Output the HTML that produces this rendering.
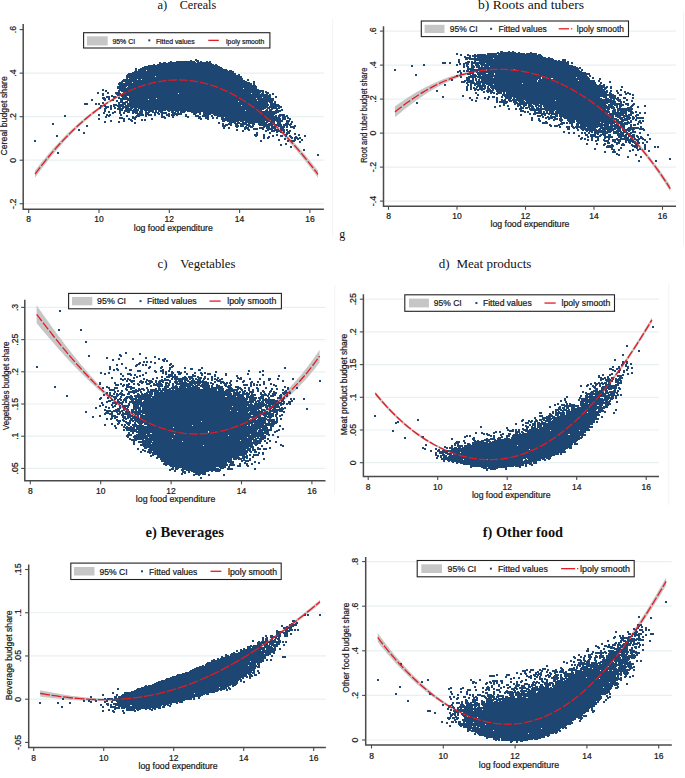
<!DOCTYPE html><html><head><meta charset="utf-8"><style>html,body{margin:0;padding:0;background:#fff;overflow:hidden}svg{display:block}text[font-family*=Sans]{stroke:#161616;stroke-width:.22px;paint-order:stroke}</style></head><body>
<svg width="685" height="778" viewBox="0 0 685 778">
<rect width="685" height="778" fill="#fff"/>
<path d="M24.2 203.73H323.9" stroke="#e8f0f1" stroke-width="1.2"/>
<path d="M24.2 160.2H323.9" stroke="#e8f0f1" stroke-width="1.2"/>
<path d="M24.2 116.67H323.9" stroke="#e8f0f1" stroke-width="1.2"/>
<path d="M24.2 73.13H323.9" stroke="#e8f0f1" stroke-width="1.2"/>
<path d="M35 170.72L37.38 167.62L39.76 164.58L42.13 161.6L44.51 158.68L46.89 155.82L49.27 153.02L51.65 150.28L54.03 147.59L56.4 144.97L58.78 142.4L61.16 139.88L63.54 137.43L65.92 135.02L68.29 132.68L70.67 130.38L73.05 128.14L75.43 125.96L77.81 123.83L80.18 121.75L82.56 119.72L84.94 117.74L87.32 115.82L89.7 113.94L92.08 112.12L94.45 110.35L96.83 108.63L99.21 106.96L101.59 105.34L103.97 103.76L106.34 102.24L108.72 100.76L111.1 99.3L113.48 97.88L115.86 96.52L118.24 95.21L120.61 93.95L122.99 92.74L125.37 91.58L127.75 90.47L130.13 89.41L132.5 88.4L134.88 87.45L137.26 86.54L139.64 85.68L142.02 84.88L144.39 84.13L146.77 83.42L149.15 82.77L151.53 82.17L153.91 81.62L156.29 81.12L158.66 80.67L161.04 80.27L163.42 79.93L165.8 79.64L168.18 79.4L170.55 79.21L172.93 79.07L175.31 78.98L177.69 78.95L180.07 78.97L182.45 79.04L184.82 79.17L187.2 79.35L189.58 79.58L191.96 79.86L194.34 80.2L196.71 80.59L199.09 81.04L201.47 81.54L203.85 82.09L206.23 82.69L208.61 83.36L210.98 84.07L213.36 84.84L215.74 85.66L218.12 86.54L220.5 87.48L222.87 88.46L225.25 89.51L227.63 90.6L230.01 91.76L232.39 92.97L234.76 94.23L237.14 95.55L239.52 96.92L241.9 98.35L244.28 99.84L246.66 101.35L249.03 102.9L251.41 104.51L253.79 106.17L256.17 107.89L258.55 109.65L260.92 111.47L263.3 113.35L265.68 115.28L268.06 117.26L270.44 119.29L272.82 121.38L275.19 123.52L277.57 125.72L279.95 127.97L282.33 130.26L284.71 132.62L287.08 135.02L289.46 137.48L291.84 139.98L294.22 142.54L296.6 145.15L298.97 147.81L301.35 150.52L303.73 153.27L306.11 156.08L308.49 158.94L310.87 161.84L313.24 164.79L315.62 167.79L318 170.84L318 177.84L315.62 174.61L313.24 171.43L310.87 168.3L308.49 165.22L306.11 162.19L303.73 159.21L301.35 156.28L298.97 153.4L296.6 150.58L294.22 147.8L291.84 145.08L289.46 142.41L287.08 139.8L284.71 137.23L282.33 134.73L279.95 132.27L277.57 129.88L275.19 127.53L272.82 125.24L270.44 123.01L268.06 120.84L265.68 118.72L263.3 116.65L260.92 114.65L258.55 112.7L256.17 110.8L253.79 108.97L251.41 107.19L249.03 105.47L246.66 103.81L244.28 102.21L241.9 100.7L239.52 99.25L237.14 97.85L234.76 96.51L232.39 95.22L230.01 93.99L227.63 92.82L225.25 91.7L222.87 90.64L220.5 89.64L218.12 88.68L215.74 87.79L213.36 86.95L210.98 86.17L208.61 85.44L206.23 84.77L203.85 84.15L201.47 83.58L199.09 83.08L196.71 82.62L194.34 82.22L191.96 81.88L189.58 81.59L187.2 81.35L184.82 81.17L182.45 81.05L180.07 80.97L177.69 80.95L175.31 80.98L172.93 81.07L170.55 81.21L168.18 81.4L165.8 81.65L163.42 81.95L161.04 82.3L158.66 82.7L156.29 83.16L153.91 83.67L151.53 84.23L149.15 84.84L146.77 85.5L144.39 86.22L142.02 86.99L139.64 87.8L137.26 88.68L134.88 89.6L132.5 90.57L130.13 91.6L127.75 92.67L125.37 93.8L122.99 94.98L120.61 96.21L118.24 97.49L115.86 98.82L113.48 100.2L111.1 101.64L108.72 103.13L106.34 104.7L103.97 106.33L101.59 108.02L99.21 109.75L96.83 111.55L94.45 113.39L92.08 115.29L89.7 117.25L87.32 119.26L84.94 121.32L82.56 123.44L80.18 125.61L77.81 127.83L75.43 130.12L73.05 132.45L70.67 134.85L68.29 137.29L65.92 139.8L63.54 142.36L61.16 144.98L58.78 147.66L56.4 150.39L54.03 153.19L51.65 156.04L49.27 158.95L46.89 161.93L44.51 164.96L42.13 168.06L39.76 171.22L37.38 174.44L35 177.72Z" fill="#c6c6c6"/>
<path d="M384.5 201.1H676" stroke="#e8f0f1" stroke-width="1.2"/>
<path d="M384.5 167.1H676" stroke="#e8f0f1" stroke-width="1.2"/>
<path d="M384.5 133.1H676" stroke="#e8f0f1" stroke-width="1.2"/>
<path d="M384.5 99.1H676" stroke="#e8f0f1" stroke-width="1.2"/>
<path d="M384.5 65.1H676" stroke="#e8f0f1" stroke-width="1.2"/>
<path d="M384.5 31.1H676" stroke="#e8f0f1" stroke-width="1.2"/>
<path d="M395 106.37L397.31 104.7L399.63 103.06L401.94 101.46L404.25 99.89L406.57 98.36L408.88 96.87L411.19 95.41L413.51 93.99L415.82 92.61L418.13 91.27L420.45 89.96L422.76 88.7L425.07 87.47L427.39 86.28L429.7 85.13L432.02 84.02L434.33 82.95L436.64 81.92L438.96 80.93L441.27 79.98L443.58 79.07L445.9 78.2L448.21 77.36L450.52 76.57L452.84 75.82L455.15 75.1L457.46 74.43L459.78 73.79L462.09 73.19L464.4 72.63L466.72 72.11L469.03 71.63L471.34 71.18L473.66 70.76L475.97 70.38L478.28 69.99L480.6 69.63L482.91 69.32L485.22 69.04L487.54 68.81L489.85 68.62L492.16 68.48L494.48 68.37L496.79 68.3L499.11 68.28L501.42 68.3L503.73 68.36L506.05 68.46L508.36 68.6L510.67 68.78L512.99 69L515.3 69.26L517.61 69.56L519.93 69.91L522.24 70.29L524.55 70.72L526.87 71.18L529.18 71.69L531.49 72.23L533.81 72.82L536.12 73.45L538.43 74.11L540.75 74.82L543.06 75.57L545.37 76.35L547.69 77.18L550 78.05L552.31 78.96L554.63 79.9L556.94 80.89L559.25 81.92L561.57 82.99L563.88 84.1L566.19 85.26L568.51 86.45L570.82 87.68L573.14 88.96L575.45 90.28L577.76 91.64L580.08 93.04L582.39 94.49L584.7 95.98L587.02 97.51L589.33 99.09L591.64 100.7L593.96 102.37L596.27 104.08L598.58 105.83L600.9 107.63L603.21 109.48L605.52 111.38L607.84 113.31L610.15 115.27L612.46 117.27L614.78 119.32L617.09 121.42L619.4 123.57L621.72 125.78L624.03 128.03L626.34 130.34L628.66 132.7L630.97 135.11L633.28 137.58L635.6 140.11L637.91 142.69L640.23 145.33L642.54 148.04L644.85 150.8L647.17 153.63L649.48 156.52L651.79 159.47L654.11 162.5L656.42 165.58L658.73 168.74L661.05 171.97L663.36 175.27L665.67 178.65L667.99 182.1L670.3 185.62L670.3 191.62L667.99 187.95L665.67 184.36L663.36 180.84L661.05 177.4L658.73 174.03L656.42 170.73L654.11 167.51L651.79 164.35L649.48 161.26L647.17 158.24L644.85 155.28L642.54 152.39L640.23 149.55L637.91 146.79L635.6 144.08L633.28 141.43L630.97 138.84L628.66 136.3L626.34 133.83L624.03 131.4L621.72 129.04L619.4 126.73L617.09 124.47L614.78 122.26L612.46 120.11L610.15 118L607.84 115.95L605.52 113.98L603.21 112.06L600.9 110.19L598.58 108.36L596.27 106.58L593.96 104.85L591.64 103.16L589.33 101.52L587.02 99.92L584.7 98.37L582.39 96.86L580.08 95.4L577.76 93.97L575.45 92.59L573.14 91.26L570.82 89.96L568.51 88.71L566.19 87.5L563.88 86.33L561.57 85.21L559.25 84.12L556.94 83.08L554.63 82.07L552.31 81.11L550 80.19L547.69 79.31L545.37 78.47L543.06 77.67L540.75 76.92L538.43 76.2L536.12 75.52L533.81 74.89L531.49 74.29L529.18 73.74L526.87 73.23L524.55 72.75L522.24 72.32L519.93 71.93L517.61 71.58L515.3 71.28L512.99 71.01L510.67 70.78L508.36 70.6L506.05 70.46L503.73 70.36L501.42 70.3L499.11 70.28L496.79 70.3L494.48 70.37L492.16 70.48L489.85 70.63L487.54 70.82L485.22 71.06L482.91 71.33L480.6 71.65L478.28 72.02L475.97 72.43L473.66 72.93L471.34 73.49L469.03 74.1L466.72 74.76L464.4 75.46L462.09 76.22L459.78 77.02L457.46 77.86L455.15 78.76L452.84 79.7L450.52 80.68L448.21 81.71L445.9 82.79L443.58 83.91L441.27 85.07L438.96 86.28L436.64 87.54L434.33 88.84L432.02 90.18L429.7 91.56L427.39 92.99L425.07 94.47L422.76 95.98L420.45 97.54L418.13 99.14L415.82 100.78L413.51 102.46L411.19 104.19L408.88 105.95L406.57 107.76L404.25 109.6L401.94 111.49L399.63 113.41L397.31 115.37L395 117.37Z" fill="#c6c6c6"/>
<path d="M25.8 468.4H325.5" stroke="#e8f0f1" stroke-width="1.2"/>
<path d="M25.8 436.2H325.5" stroke="#e8f0f1" stroke-width="1.2"/>
<path d="M25.8 404H325.5" stroke="#e8f0f1" stroke-width="1.2"/>
<path d="M25.8 371.8H325.5" stroke="#e8f0f1" stroke-width="1.2"/>
<path d="M25.8 339.6H325.5" stroke="#e8f0f1" stroke-width="1.2"/>
<path d="M25.8 307.4H325.5" stroke="#e8f0f1" stroke-width="1.2"/>
<path d="M36.6 305.3L38.98 308.68L41.36 312.05L43.73 315.41L46.11 318.75L48.49 322.07L50.87 325.38L53.25 328.66L55.63 331.92L58 335.16L60.38 338.36L62.76 341.53L65.14 344.67L67.52 347.77L69.89 350.84L72.27 353.86L74.65 356.85L77.03 359.79L79.41 362.69L81.78 365.55L84.16 368.36L86.54 371.12L88.92 373.83L91.3 376.49L93.68 379.09L96.05 381.65L98.43 384.14L100.81 386.59L103.19 388.97L105.57 391.3L107.94 393.57L110.32 395.77L112.7 397.91L115.08 399.92L117.46 401.82L119.84 403.67L122.21 405.46L124.59 407.19L126.97 408.87L129.35 410.5L131.73 412.06L134.1 413.57L136.48 415.02L138.86 416.42L141.24 417.75L143.62 419.03L145.99 420.26L148.37 421.42L150.75 422.53L153.13 423.58L155.51 424.57L157.89 425.51L160.26 426.39L162.64 427.21L165.02 427.98L167.4 428.68L169.78 429.34L172.15 429.93L174.53 430.47L176.91 430.95L179.29 431.38L181.67 431.75L184.05 432.07L186.42 432.33L188.8 432.53L191.18 432.68L193.56 432.78L195.94 432.82L198.31 432.81L200.69 432.74L203.07 432.62L205.45 432.44L207.83 432.21L210.21 431.93L212.58 431.59L214.96 431.2L217.34 430.75L219.72 430.25L222.1 429.7L224.47 429.09L226.85 428.43L229.23 427.71L231.61 426.94L233.99 426.12L236.36 425.24L238.74 424.3L241.12 423.24L243.5 422.12L245.88 420.93L248.26 419.68L250.63 418.36L253.01 416.99L255.39 415.55L257.77 414.05L260.15 412.48L262.52 410.86L264.9 409.16L267.28 407.41L269.66 405.58L272.04 403.69L274.42 401.74L276.79 399.71L279.17 397.61L281.55 395.45L283.93 393.21L286.31 390.89L288.68 388.51L291.06 386.04L293.44 383.5L295.82 380.87L298.2 378.17L300.57 375.38L302.95 372.5L305.33 369.54L307.71 366.49L310.09 363.34L312.47 360.1L314.84 356.77L317.22 353.33L319.6 349.79L319.6 362.39L317.22 365.56L314.84 368.63L312.47 371.6L310.09 374.48L307.71 377.27L305.33 379.97L302.95 382.58L300.57 385.11L298.2 387.56L295.82 389.93L293.44 392.22L291.06 394.43L288.68 396.57L286.31 398.63L283.93 400.63L281.55 402.56L279.17 404.41L276.79 406.21L274.42 407.94L272.04 409.6L269.66 411.2L267.28 412.74L264.9 414.23L262.52 415.65L260.15 417.01L257.77 418.32L255.39 419.58L253.01 420.78L250.63 421.92L248.26 423.02L245.88 424.06L243.5 425.05L241.12 426L238.74 426.9L236.36 427.81L233.99 428.67L231.61 429.47L229.23 430.23L226.85 430.93L224.47 431.57L222.1 432.17L219.72 432.71L217.34 433.2L214.96 433.63L212.58 434.02L210.21 434.35L207.83 434.63L205.45 434.85L203.07 435.02L200.69 435.14L198.31 435.21L195.94 435.22L193.56 435.18L191.18 435.09L188.8 434.94L186.42 434.74L184.05 434.49L181.67 434.18L179.29 433.81L176.91 433.4L174.53 432.92L172.15 432.4L169.78 431.82L167.4 431.18L165.02 430.49L162.64 429.74L160.26 428.93L157.89 428.08L155.51 427.16L153.13 426.19L150.75 425.16L148.37 424.08L145.99 422.94L143.62 421.74L141.24 420.49L138.86 419.18L136.48 417.81L134.1 416.39L131.73 414.91L129.35 413.38L126.97 411.79L124.59 410.14L122.21 408.44L119.84 406.68L117.46 404.87L115.08 403L112.7 401.13L110.32 399.29L107.94 397.4L105.57 395.47L103.19 393.5L100.81 391.48L98.43 389.41L96.05 387.3L93.68 385.15L91.3 382.96L88.92 380.72L86.54 378.44L84.16 376.12L81.78 373.76L79.41 371.36L77.03 368.92L74.65 366.45L72.27 363.94L69.89 361.4L67.52 358.83L65.14 356.23L62.76 353.59L60.38 350.93L58 348.25L55.63 345.54L53.25 342.81L50.87 340.06L48.49 337.3L46.11 334.52L43.73 331.72L41.36 328.92L38.98 326.11L36.6 323.3Z" fill="#c6c6c6"/>
<path d="M364.4 462.7H659" stroke="#e8f0f1" stroke-width="1.2"/>
<path d="M364.4 430H659" stroke="#e8f0f1" stroke-width="1.2"/>
<path d="M364.4 397.3H659" stroke="#e8f0f1" stroke-width="1.2"/>
<path d="M364.4 364.6H659" stroke="#e8f0f1" stroke-width="1.2"/>
<path d="M364.4 331.9H659" stroke="#e8f0f1" stroke-width="1.2"/>
<path d="M364.4 299.2H659" stroke="#e8f0f1" stroke-width="1.2"/>
<path d="M375.3 391.39L377.62 394.26L379.95 397.06L382.27 399.79L384.6 402.44L386.92 405.02L389.25 407.53L391.57 409.97L393.89 412.34L396.22 414.65L398.54 416.89L400.87 419.06L403.19 421.17L405.52 423.22L407.84 425.2L410.17 427.12L412.49 428.98L414.81 430.78L417.14 432.53L419.46 434.21L421.79 435.83L424.11 437.4L426.44 438.91L428.76 440.36L431.08 441.76L433.41 443.1L435.73 444.38L438.06 445.61L440.38 446.79L442.71 447.91L445.03 448.97L447.36 449.98L449.68 450.93L452 451.82L454.33 452.65L456.65 453.43L458.98 454.16L461.3 454.84L463.63 455.46L465.95 456.03L468.27 456.54L470.6 457.01L472.92 457.41L475.25 457.77L477.57 458.07L479.9 458.32L482.22 458.52L484.55 458.66L486.87 458.75L489.19 458.78L491.52 458.76L493.84 458.68L496.17 458.55L498.49 458.37L500.82 458.13L503.14 457.83L505.46 457.48L507.79 457.07L510.11 456.61L512.44 456.09L514.76 455.52L517.09 454.88L519.41 454.19L521.74 453.45L524.06 452.64L526.38 451.78L528.71 450.86L531.03 449.88L533.36 448.84L535.68 447.75L538.01 446.59L540.33 445.38L542.65 444.1L544.98 442.77L547.3 441.38L549.63 439.93L551.95 438.41L554.28 436.84L556.6 435.21L558.93 433.52L561.25 431.76L563.57 429.95L565.9 428.08L568.22 426.14L570.55 424.15L572.87 422.09L575.2 419.97L577.52 417.8L579.84 415.56L582.17 413.26L584.49 410.9L586.82 408.49L589.14 406.01L591.47 403.47L593.79 400.88L596.12 398.22L598.44 395.51L600.76 392.74L603.09 389.9L605.41 387.01L607.74 384.03L610.06 381L612.39 377.91L614.71 374.77L617.03 371.57L619.36 368.31L621.68 365L624.01 361.64L626.33 358.22L628.66 354.75L630.98 351.23L633.31 347.66L635.63 344.04L637.95 340.37L640.28 336.66L642.6 332.9L644.93 329.09L647.25 325.24L649.58 321.34L651.9 317.41L651.9 322.41L649.58 326.23L647.25 330.01L644.93 333.74L642.6 337.44L640.28 341.09L637.95 344.69L635.63 348.25L633.31 351.76L630.98 355.23L628.66 358.64L626.33 362L624.01 365.32L621.68 368.58L619.36 371.79L617.03 374.94L614.71 378.05L612.39 381.09L610.06 384.09L607.74 387.02L605.41 389.91L603.09 392.75L600.76 395.54L598.44 398.28L596.12 400.96L593.79 403.58L591.47 406.14L589.14 408.65L586.82 411.09L584.49 413.48L582.17 415.8L579.84 418.07L577.52 420.27L575.2 422.42L572.87 424.5L570.55 426.53L568.22 428.49L565.9 430.4L563.57 432.24L561.25 434.03L558.93 435.75L556.6 437.42L554.28 439.02L551.95 440.57L549.63 442.06L547.3 443.48L544.98 444.85L542.65 446.16L540.33 447.42L538.01 448.61L535.68 449.74L533.36 450.82L531.03 451.84L528.71 452.8L526.38 453.7L524.06 454.55L521.74 455.34L519.41 456.08L517.09 456.75L514.76 457.37L512.44 457.94L510.11 458.45L507.79 458.9L505.46 459.3L503.14 459.65L500.82 459.94L498.49 460.18L496.17 460.36L493.84 460.48L491.52 460.56L489.19 460.58L486.87 460.55L484.55 460.46L482.22 460.32L479.9 460.13L477.57 459.89L475.25 459.59L472.92 459.24L470.6 458.84L468.27 458.38L465.95 457.87L463.63 457.32L461.3 456.7L458.98 456.04L456.65 455.32L454.33 454.56L452 453.73L449.68 452.86L447.36 451.94L445.03 450.97L442.71 449.96L440.38 448.89L438.06 447.77L435.73 446.59L433.41 445.36L431.08 444.08L428.76 442.74L426.44 441.34L424.11 439.9L421.79 438.39L419.46 436.83L417.14 435.21L414.81 433.53L412.49 431.8L410.17 430.01L407.84 428.15L405.52 426.24L403.19 424.26L400.87 422.22L398.54 420.12L396.22 417.96L393.89 415.72L391.57 413.43L389.25 411.06L386.92 408.63L384.6 406.12L382.27 403.55L379.95 400.9L377.62 398.18L375.3 395.39Z" fill="#c6c6c6"/>
<path d="M29.7 699.2H325.9" stroke="#e8f0f1" stroke-width="1.2"/>
<path d="M29.7 655.97H325.9" stroke="#e8f0f1" stroke-width="1.2"/>
<path d="M29.7 612.73H325.9" stroke="#e8f0f1" stroke-width="1.2"/>
<path d="M40.1 690.16L42.45 690.65L44.8 691.13L47.16 691.59L49.51 692.05L51.86 692.5L54.21 692.94L56.56 693.36L58.92 693.77L61.27 694.17L63.62 694.56L65.97 694.93L68.33 695.29L70.68 695.63L73.03 695.95L75.38 696.26L77.73 696.55L80.09 696.83L82.44 697.09L84.79 697.32L87.14 697.54L89.49 697.74L91.85 697.92L94.2 698.08L96.55 698.22L98.9 698.34L101.25 698.44L103.61 698.51L105.96 698.56L108.31 698.59L110.66 698.59L113.02 698.57L115.37 698.53L117.72 698.45L120.07 698.36L122.42 698.23L124.78 698.06L127.13 697.85L129.48 697.62L131.83 697.37L134.18 697.09L136.54 696.79L138.89 696.46L141.24 696.11L143.59 695.74L145.94 695.34L148.3 694.91L150.65 694.46L153 693.99L155.35 693.49L157.71 692.96L160.06 692.41L162.41 691.84L164.76 691.24L167.11 690.61L169.47 689.96L171.82 689.28L174.17 688.57L176.52 687.85L178.87 687.09L181.23 686.31L183.58 685.51L185.93 684.67L188.28 683.82L190.63 682.94L192.99 682.03L195.34 681.1L197.69 680.14L200.04 679.16L202.39 678.15L204.75 677.12L207.1 676.06L209.45 674.98L211.8 673.87L214.16 672.74L216.51 671.59L218.86 670.41L221.21 669.21L223.56 667.99L225.92 666.74L228.27 665.47L230.62 664.17L232.97 662.85L235.32 661.51L237.68 660.15L240.03 658.77L242.38 657.36L244.73 655.93L247.08 654.48L249.44 653.01L251.79 651.52L254.14 650L256.49 648.45L258.85 646.87L261.2 645.27L263.55 643.66L265.9 642.02L268.25 640.36L270.61 638.69L272.96 636.99L275.31 635.28L277.66 633.55L280.01 631.8L282.37 630.04L284.72 628.25L287.07 626.46L289.42 624.64L291.77 622.81L294.13 620.97L296.48 619.11L298.83 617.23L301.18 615.34L303.54 613.44L305.89 611.53L308.24 609.6L310.59 607.66L312.94 605.71L315.3 603.74L317.65 601.77L320 599.78L320 603.78L317.65 605.68L315.3 607.57L312.94 609.45L310.59 611.31L308.24 613.17L305.89 615.02L303.54 616.85L301.18 618.67L298.83 620.48L296.48 622.27L294.13 624.05L291.77 625.82L289.42 627.57L287.07 629.31L284.72 631.04L282.37 632.74L280.01 634.44L277.66 636.11L275.31 637.77L272.96 639.42L270.61 641.04L268.25 642.65L265.9 644.24L263.55 645.82L261.2 647.37L258.85 648.91L256.49 650.43L254.14 651.93L251.79 653.42L249.44 654.9L247.08 656.37L244.73 657.81L242.38 659.23L240.03 660.63L237.68 662L235.32 663.36L232.97 664.69L230.62 666L228.27 667.29L225.92 668.55L223.56 669.79L221.21 671.01L218.86 672.2L216.51 673.37L214.16 674.52L211.8 675.64L209.45 676.74L207.1 677.82L204.75 678.87L202.39 679.89L200.04 680.89L197.69 681.87L195.34 682.82L192.99 683.75L190.63 684.65L188.28 685.52L185.93 686.37L183.58 687.2L181.23 688L178.87 688.77L176.52 689.52L174.17 690.25L171.82 690.95L169.47 691.62L167.11 692.27L164.76 692.89L162.41 693.49L160.06 694.06L157.71 694.6L155.35 695.13L153 695.62L150.65 696.09L148.3 696.54L145.94 696.96L143.59 697.36L141.24 697.73L138.89 698.08L136.54 698.4L134.18 698.7L131.83 698.98L129.48 699.23L127.13 699.46L124.78 699.66L122.42 699.86L120.07 700.05L117.72 700.22L115.37 700.38L113.02 700.51L110.66 700.63L108.31 700.73L105.96 700.81L103.61 700.88L101.25 700.92L98.9 700.94L96.55 700.95L94.2 700.94L91.85 700.91L89.49 700.86L87.14 700.79L84.79 700.71L82.44 700.61L80.09 700.5L77.73 700.37L75.38 700.23L73.03 700.07L70.68 699.89L68.33 699.7L65.97 699.5L63.62 699.29L61.27 699.06L58.92 698.82L56.56 698.57L54.21 698.31L51.86 698.04L49.51 697.76L47.16 697.48L44.8 697.18L42.45 696.88L40.1 696.56Z" fill="#c6c6c6"/>
<path d="M366.7 740H671.8" stroke="#e8f0f1" stroke-width="1.2"/>
<path d="M366.7 695.4H671.8" stroke="#e8f0f1" stroke-width="1.2"/>
<path d="M366.7 650.8H671.8" stroke="#e8f0f1" stroke-width="1.2"/>
<path d="M366.7 606.2H671.8" stroke="#e8f0f1" stroke-width="1.2"/>
<path d="M366.7 561.6H671.8" stroke="#e8f0f1" stroke-width="1.2"/>
<path d="M377.7 633.03L380.12 636.34L382.55 639.59L384.97 642.78L387.39 645.9L389.82 648.95L392.24 651.95L394.66 654.88L397.09 657.75L399.51 660.55L401.94 663.3L404.36 665.99L406.78 668.61L409.21 671.17L411.63 673.68L414.05 676.12L416.48 678.51L418.9 680.83L421.32 683.1L423.75 685.3L426.17 687.45L428.59 689.53L431.02 691.56L433.44 693.53L435.86 695.44L438.29 697.28L440.71 699.07L443.14 700.8L445.56 702.46L447.98 704.07L450.41 705.61L452.83 707.09L455.25 708.51L457.68 709.86L460.1 711.1L462.52 712.29L464.95 713.42L467.37 714.49L469.79 715.5L472.22 716.44L474.64 717.33L477.06 718.16L479.49 718.92L481.91 719.63L484.34 720.27L486.76 720.85L489.18 721.37L491.61 721.83L494.03 722.22L496.45 722.55L498.88 722.81L501.3 723.01L503.72 723.15L506.15 723.22L508.57 723.23L510.99 723.17L513.42 723.05L515.84 722.86L518.26 722.6L520.69 722.28L523.11 721.89L525.54 721.44L527.96 720.91L530.38 720.32L532.81 719.66L535.23 718.94L537.65 718.14L540.08 717.28L542.5 716.34L544.92 715.34L547.35 714.27L549.77 713.13L552.19 711.92L554.62 710.64L557.04 709.29L559.46 707.87L561.89 706.39L564.31 704.83L566.74 703.2L569.16 701.5L571.58 699.73L574.01 697.89L576.43 695.99L578.85 694.01L581.28 691.96L583.7 689.84L586.12 687.66L588.55 685.4L590.97 683.08L593.39 680.68L595.82 678.22L598.24 675.69L600.66 673.08L603.09 670.36L605.51 667.58L607.94 664.72L610.36 661.8L612.78 658.8L615.21 655.74L617.63 652.62L620.05 649.43L622.48 646.17L624.9 642.85L627.32 639.46L629.75 636.01L632.17 632.5L634.59 628.93L637.02 625.3L639.44 621.61L641.86 617.86L644.29 614.05L646.71 610.18L649.14 606.27L651.56 602.29L653.98 598.26L656.41 594.19L658.83 590.06L661.25 585.88L663.68 581.65L666.1 577.38L666.1 585.38L663.68 589.43L661.25 593.44L658.83 597.41L656.41 601.33L653.98 605.2L651.56 609.01L649.14 612.78L646.71 616.5L644.29 620.16L641.86 623.77L639.44 627.32L637.02 630.82L634.59 634.26L632.17 637.64L629.75 640.97L627.32 644.23L624.9 647.44L622.48 650.58L620.05 653.66L617.63 656.68L615.21 659.64L612.78 662.53L610.36 665.36L607.94 668.13L605.51 670.83L603.09 673.47L600.66 676.04L598.24 678.59L595.82 681.08L593.39 683.5L590.97 685.86L588.55 688.14L586.12 690.36L583.7 692.51L581.28 694.59L578.85 696.6L576.43 698.54L574.01 700.41L571.58 702.22L569.16 703.95L566.74 705.62L564.31 707.21L561.89 708.74L559.46 710.2L557.04 711.59L554.62 712.91L552.19 714.16L549.77 715.35L547.35 716.47L544.92 717.51L542.5 718.49L540.08 719.41L537.65 720.25L535.23 721.03L532.81 721.74L530.38 722.39L527.96 722.96L525.54 723.48L523.11 723.92L520.69 724.3L518.26 724.62L515.84 724.87L513.42 725.05L510.99 725.17L508.57 725.23L506.15 725.22L503.72 725.15L501.3 725.02L498.88 724.82L496.45 724.56L494.03 724.24L491.61 723.85L489.18 723.41L486.76 722.9L484.34 722.33L481.91 721.7L479.49 721.01L477.06 720.26L474.64 719.45L472.22 718.58L469.79 717.65L467.37 716.66L464.95 715.61L462.52 714.5L460.1 713.34L457.68 712.11L455.25 710.87L452.83 709.58L450.41 708.24L447.98 706.84L445.56 705.39L443.14 703.88L440.71 702.32L438.29 700.7L435.86 699.03L433.44 697.3L431.02 695.52L428.59 693.68L426.17 691.79L423.75 689.84L421.32 687.83L418.9 685.77L416.48 683.65L414.05 681.47L411.63 679.24L409.21 676.95L406.78 674.6L404.36 672.2L401.94 669.74L399.51 667.21L397.09 664.64L394.66 662L392.24 659.3L389.82 656.54L387.39 653.72L384.97 650.84L382.55 647.9L380.12 644.9L377.7 641.83Z" fill="#c6c6c6"/>
<path d="M500 51.5h3M508 51.5h2M512 51.5h2M497 52.5h2M500 52.5h16M518 52.5h2M530 52.5h2M456 53.5h2M487 53.5h38M526 53.5h11M456 54.5h2M460 54.5h2M467 54.5h2M474 54.5h2M477 54.5h9M487 54.5h10M498 54.5h39M538 54.5h3M460 55.5h2M467 55.5h4M472 55.5h70M464 56.5h2M469 56.5h2M472 56.5h71M464 57.5h7M474 57.5h2M477 57.5h69M548 57.5h2M465 58.5h28M494 58.5h59M195 59.5h2M458 59.5h2M465 59.5h3M469 59.5h85M562 59.5h4M190 60.5h2M195 60.5h4M458 60.5h2M474 60.5h83M558 60.5h2M562 60.5h4M170 61.5h2M176 61.5h19M196 61.5h3M200 61.5h2M206 61.5h2M209 61.5h2M458 61.5h2M467 61.5h3M471 61.5h2M474 61.5h2M479 61.5h87M567 61.5h2M159 62.5h2M163 62.5h3M168 62.5h28M197 62.5h14M442 62.5h4M449 62.5h2M458 62.5h2M465 62.5h5M471 62.5h98M571 62.5h2M159 63.5h53M442 63.5h4M449 63.5h2M459 63.5h2M463 63.5h6M471 63.5h14M486 63.5h83M571 63.5h2M153 64.5h2M157 64.5h57M215 64.5h2M423 64.5h2M456 64.5h2M459 64.5h2M463 64.5h2M466 64.5h3M471 64.5h2M475 64.5h4M480 64.5h89M148 65.5h70M411 65.5h2M423 65.5h2M456 65.5h2M463 65.5h2M466 65.5h2M471 65.5h3M475 65.5h5M481 65.5h92M144 66.5h76M411 66.5h2M463 66.5h2M466 66.5h3M471 66.5h4M476 66.5h4M481 66.5h2M484 66.5h5M490 66.5h86M142 67.5h80M463 67.5h2M467 67.5h2M471 67.5h4M476 67.5h102M579 67.5h2M135 68.5h2M140 68.5h83M467 68.5h7M478 68.5h103M135 69.5h2M138 69.5h89M394 69.5h2M467 69.5h19M487 69.5h27M515 69.5h64M581 69.5h2M135 70.5h2M138 70.5h8M147 70.5h81M229 70.5h3M394 70.5h2M459 70.5h2M463 70.5h2M466 70.5h3M470 70.5h11M482 70.5h4M487 70.5h93M581 70.5h2M134 71.5h100M457 71.5h4M463 71.5h2M466 71.5h8M476 71.5h2M479 71.5h103M132 72.5h102M457 72.5h2M460 72.5h2M469 72.5h5M476 72.5h110M128 73.5h108M460 73.5h2M467 73.5h7M477 73.5h9M488 73.5h6M495 73.5h95M127 74.5h109M238 74.5h2M415 74.5h2M460 74.5h2M467 74.5h4M472 74.5h4M477 74.5h17M495 74.5h95M126 75.5h114M415 75.5h2M456 75.5h2M470 75.5h7M478 75.5h3M482 75.5h105M589 75.5h2M126 76.5h29M156 76.5h86M456 76.5h2M460 76.5h2M468 76.5h120M589 76.5h2M126 77.5h116M460 77.5h2M466 77.5h10M477 77.5h16M494 77.5h47M542 77.5h34M577 77.5h12M592 77.5h2M126 78.5h2M129 78.5h114M466 78.5h4M472 78.5h2M475 78.5h2M479 78.5h62M542 78.5h9M553 78.5h37M592 78.5h2M599 78.5h2M123 79.5h14M138 79.5h3M142 79.5h101M247 79.5h2M451 79.5h2M466 79.5h4M472 79.5h2M475 79.5h2M478 79.5h2M481 79.5h57M539 79.5h51M599 79.5h2M122 80.5h123M247 80.5h2M451 80.5h2M464 80.5h10M475 80.5h2M478 80.5h2M481 80.5h56M538 80.5h40M579 80.5h16M598 80.5h2M121 81.5h126M253 81.5h2M461 81.5h5M467 81.5h7M476 81.5h61M538 81.5h57M598 81.5h2M609 81.5h2M119 82.5h4M125 82.5h7M133 82.5h117M253 82.5h2M461 82.5h4M466 82.5h9M476 82.5h120M600 82.5h2M609 82.5h2M118 83.5h134M253 83.5h2M466 83.5h2M470 83.5h11M482 83.5h40M523 83.5h73M600 83.5h2M118 84.5h134M253 84.5h2M444 84.5h2M467 84.5h2M470 84.5h2M474 84.5h7M482 84.5h3M486 84.5h7M494 84.5h103M599 84.5h2M603 84.5h2M119 85.5h137M444 85.5h2M467 85.5h2M470 85.5h2M474 85.5h2M477 85.5h9M488 85.5h117M117 86.5h10M128 86.5h129M466 86.5h2M470 86.5h2M476 86.5h10M487 86.5h2M490 86.5h115M606 86.5h2M610 86.5h2M621 86.5h2M117 87.5h9M127 87.5h130M466 87.5h2M470 87.5h2M473 87.5h2M476 87.5h2M479 87.5h4M484 87.5h2M487 87.5h2M490 87.5h118M610 87.5h2M621 87.5h2M117 88.5h126M244 88.5h13M466 88.5h2M470 88.5h2M473 88.5h4M479 88.5h7M487 88.5h3M491 88.5h112M604 88.5h3M610 88.5h2M102 89.5h2M119 89.5h140M466 89.5h2M470 89.5h2M474 89.5h11M487 89.5h4M492 89.5h2M495 89.5h111M620 89.5h2M102 90.5h2M105 90.5h2M118 90.5h146M436 90.5h2M466 90.5h2M474 90.5h2M477 90.5h2M481 90.5h2M486 90.5h8M496 90.5h109M606 90.5h2M610 90.5h2M616 90.5h2M620 90.5h2M105 91.5h2M118 91.5h2M121 91.5h143M265 91.5h2M436 91.5h2M483 91.5h2M486 91.5h7M496 91.5h112M610 91.5h2M616 91.5h2M624 91.5h2M97 92.5h2M107 92.5h2M115 92.5h5M123 92.5h138M262 92.5h2M265 92.5h4M475 92.5h2M483 92.5h2M487 92.5h2M490 92.5h5M497 92.5h5M503 92.5h2M506 92.5h102M609 92.5h2M617 92.5h2M624 92.5h2M627 92.5h2M97 93.5h2M102 93.5h2M107 93.5h2M115 93.5h6M122 93.5h56M179 93.5h72M252 93.5h8M261 93.5h3M266 93.5h3M272 93.5h2M475 93.5h2M490 93.5h2M493 93.5h2M496 93.5h6M503 93.5h2M506 93.5h101M609 93.5h3M617 93.5h2M625 93.5h6M102 94.5h2M116 94.5h152M269 94.5h2M272 94.5h2M477 94.5h2M496 94.5h2M502 94.5h112M619 94.5h3M625 94.5h2M629 94.5h2M632 94.5h2M102 95.5h2M111 95.5h2M117 95.5h154M462 95.5h2M477 95.5h2M502 95.5h114M619 95.5h3M632 95.5h2M106 96.5h4M111 96.5h5M121 96.5h6M129 96.5h142M275 96.5h2M442 96.5h2M462 96.5h2M488 96.5h2M492 96.5h3M501 96.5h2M504 96.5h103M609 96.5h7M102 97.5h3M106 97.5h4M113 97.5h3M118 97.5h2M122 97.5h6M129 97.5h133M263 97.5h8M275 97.5h2M442 97.5h2M469 97.5h2M476 97.5h2M484 97.5h2M488 97.5h2M492 97.5h3M496 97.5h2M501 97.5h2M505 97.5h7M513 97.5h87M603 97.5h4M609 97.5h7M617 97.5h2M623 97.5h3M632 97.5h2M102 98.5h4M108 98.5h2M118 98.5h38M157 98.5h99M257 98.5h17M469 98.5h2M476 98.5h2M484 98.5h2M487 98.5h2M496 98.5h2M505 98.5h7M513 98.5h2M516 98.5h86M605 98.5h4M610 98.5h9M623 98.5h3M632 98.5h2M91 99.5h2M103 99.5h3M108 99.5h2M112 99.5h2M120 99.5h28M149 99.5h125M471 99.5h2M487 99.5h2M496 99.5h2M501 99.5h2M504 99.5h2M508 99.5h3M512 99.5h100M613 99.5h2M616 99.5h5M626 99.5h2M91 100.5h2M104 100.5h2M112 100.5h2M116 100.5h2M120 100.5h3M127 100.5h130M258 100.5h16M471 100.5h2M475 100.5h2M496 100.5h2M501 100.5h5M508 100.5h16M525 100.5h30M556 100.5h59M617 100.5h4M626 100.5h2M631 100.5h2M116 101.5h2M120 101.5h3M125 101.5h3M129 101.5h109M239 101.5h34M274 101.5h2M475 101.5h2M496 101.5h2M499 101.5h9M509 101.5h3M513 101.5h4M518 101.5h7M526 101.5h90M618 101.5h4M623 101.5h2M631 101.5h2M102 102.5h2M118 102.5h10M129 102.5h139M269 102.5h4M274 102.5h2M416 102.5h2M496 102.5h2M499 102.5h9M513 102.5h5M519 102.5h97M620 102.5h2M623 102.5h2M84 103.5h4M95 103.5h2M98 103.5h2M102 103.5h2M118 103.5h2M122 103.5h4M127 103.5h141M270 103.5h6M416 103.5h2M503 103.5h4M514 103.5h94M610 103.5h12M625 103.5h4M633 103.5h2M84 104.5h4M95 104.5h2M98 104.5h2M113 104.5h4M118 104.5h8M127 104.5h142M270 104.5h9M503 104.5h2M514 104.5h2M517 104.5h10M528 104.5h4M533 104.5h6M540 104.5h66M608 104.5h16M625 104.5h4M632 104.5h3M100 105.5h2M104 105.5h2M110 105.5h2M113 105.5h11M125 105.5h116M242 105.5h27M270 105.5h10M499 105.5h2M503 105.5h2M507 105.5h2M517 105.5h4M523 105.5h4M528 105.5h5M535 105.5h7M543 105.5h64M608 105.5h5M614 105.5h4M619 105.5h5M627 105.5h2M631 105.5h3M644 105.5h2M100 106.5h2M104 106.5h5M110 106.5h2M113 106.5h2M117 106.5h151M269 106.5h13M494 106.5h2M499 106.5h2M507 106.5h2M517 106.5h2M520 106.5h2M523 106.5h2M528 106.5h6M535 106.5h2M538 106.5h4M543 106.5h71M616 106.5h2M619 106.5h3M630 106.5h3M637 106.5h2M644 106.5h2M99 107.5h2M105 107.5h4M110 107.5h2M114 107.5h2M118 107.5h3M122 107.5h7M130 107.5h147M278 107.5h4M494 107.5h2M520 107.5h4M525 107.5h5M531 107.5h3M536 107.5h3M540 107.5h2M544 107.5h71M616 107.5h2M619 107.5h2M627 107.5h5M637 107.5h2M99 108.5h2M104 108.5h3M110 108.5h2M114 108.5h2M117 108.5h7M125 108.5h8M134 108.5h3M138 108.5h128M267 108.5h3M271 108.5h9M508 108.5h2M515 108.5h2M519 108.5h5M525 108.5h3M529 108.5h6M536 108.5h74M611 108.5h4M617 108.5h16M104 109.5h2M110 109.5h2M117 109.5h6M125 109.5h7M133 109.5h6M140 109.5h124M266 109.5h2M269 109.5h4M276 109.5h2M281 109.5h2M508 109.5h2M515 109.5h2M519 109.5h3M529 109.5h77M607 109.5h3M613 109.5h3M617 109.5h16M104 110.5h2M119 110.5h4M124 110.5h15M140 110.5h3M144 110.5h10M155 110.5h2M158 110.5h8M167 110.5h78M246 110.5h16M265 110.5h3M269 110.5h3M275 110.5h8M520 110.5h4M530 110.5h12M545 110.5h10M556 110.5h53M612 110.5h4M617 110.5h15M104 111.5h2M108 111.5h2M114 111.5h2M119 111.5h2M124 111.5h6M132 111.5h6M139 111.5h4M145 111.5h2M148 111.5h6M155 111.5h2M158 111.5h5M168 111.5h2M171 111.5h3M175 111.5h4M180 111.5h6M187 111.5h94M520 111.5h6M527 111.5h2M534 111.5h2M538 111.5h4M543 111.5h2M546 111.5h2M549 111.5h5M555 111.5h55M612 111.5h4M617 111.5h2M620 111.5h7M628 111.5h5M635 111.5h2M103 112.5h2M108 112.5h2M112 112.5h4M119 112.5h2M123 112.5h2M127 112.5h3M132 112.5h6M139 112.5h4M145 112.5h5M152 112.5h7M160 112.5h7M171 112.5h5M177 112.5h2M180 112.5h5M191 112.5h10M203 112.5h76M524 112.5h2M527 112.5h2M534 112.5h8M543 112.5h2M546 112.5h2M549 112.5h5M555 112.5h55M612 112.5h15M630 112.5h4M635 112.5h2M639 112.5h2M644 112.5h2M103 113.5h2M112 113.5h2M119 113.5h2M123 113.5h2M132 113.5h2M135 113.5h8M145 113.5h4M154 113.5h2M157 113.5h3M161 113.5h6M168 113.5h2M172 113.5h10M193 113.5h4M199 113.5h2M203 113.5h74M529 113.5h2M533 113.5h75M609 113.5h18M630 113.5h4M639 113.5h2M644 113.5h2M98 114.5h2M106 114.5h2M109 114.5h2M120 114.5h2M137 114.5h7M145 114.5h7M154 114.5h2M158 114.5h2M161 114.5h2M166 114.5h4M171 114.5h11M185 114.5h2M193 114.5h3M199 114.5h2M203 114.5h8M213 114.5h62M279 114.5h6M520 114.5h2M529 114.5h2M533 114.5h3M541 114.5h5M548 114.5h2M551 114.5h7M559 114.5h65M625 114.5h2M628 114.5h4M636 114.5h3M64 115.5h2M98 115.5h2M106 115.5h5M120 115.5h2M126 115.5h2M136 115.5h8M145 115.5h2M148 115.5h4M154 115.5h2M161 115.5h2M166 115.5h4M171 115.5h4M176 115.5h2M185 115.5h2M195 115.5h4M202 115.5h7M211 115.5h2M214 115.5h60M275 115.5h2M278 115.5h7M286 115.5h2M520 115.5h2M537 115.5h6M544 115.5h2M550 115.5h2M555 115.5h3M559 115.5h55M615 115.5h17M635 115.5h4M64 116.5h2M105 116.5h2M108 116.5h2M126 116.5h2M132 116.5h2M135 116.5h5M145 116.5h2M161 116.5h4M168 116.5h2M172 116.5h2M185 116.5h4M195 116.5h6M202 116.5h7M211 116.5h2M217 116.5h60M278 116.5h3M282 116.5h6M537 116.5h4M542 116.5h2M547 116.5h2M550 116.5h8M559 116.5h55M615 116.5h6M623 116.5h7M632 116.5h2M635 116.5h2M105 117.5h2M119 117.5h4M132 117.5h5M161 117.5h5M172 117.5h2M187 117.5h2M198 117.5h3M205 117.5h4M212 117.5h2M216 117.5h2M221 117.5h3M225 117.5h55M282 117.5h4M287 117.5h2M531 117.5h2M542 117.5h2M545 117.5h11M560 117.5h2M563 117.5h51M617 117.5h8M626 117.5h5M632 117.5h3M636 117.5h8M98 118.5h2M119 118.5h6M128 118.5h2M132 118.5h4M151 118.5h2M164 118.5h2M198 118.5h4M205 118.5h4M212 118.5h2M216 118.5h2M221 118.5h60M282 118.5h4M287 118.5h4M531 118.5h2M538 118.5h2M545 118.5h2M548 118.5h5M554 118.5h4M559 118.5h3M564 118.5h53M619 118.5h4M624 118.5h7M632 118.5h3M636 118.5h8M98 119.5h2M123 119.5h2M128 119.5h4M134 119.5h2M141 119.5h2M144 119.5h2M151 119.5h2M200 119.5h2M207 119.5h2M221 119.5h60M282 119.5h4M289 119.5h2M531 119.5h2M538 119.5h2M548 119.5h2M553 119.5h5M559 119.5h4M567 119.5h52M620 119.5h10M632 119.5h2M635 119.5h2M110 120.5h2M123 120.5h2M130 120.5h3M141 120.5h2M144 120.5h2M222 120.5h48M271 120.5h12M286 120.5h4M531 120.5h2M538 120.5h3M553 120.5h2M559 120.5h4M567 120.5h8M576 120.5h39M616 120.5h3M621 120.5h7M630 120.5h2M635 120.5h2M639 120.5h2M642 120.5h2M104 121.5h2M110 121.5h2M118 121.5h2M123 121.5h2M131 121.5h2M222 121.5h3M227 121.5h12M240 121.5h4M245 121.5h20M266 121.5h9M276 121.5h7M286 121.5h4M291 121.5h2M539 121.5h2M545 121.5h2M560 121.5h2M568 121.5h7M576 121.5h48M627 121.5h2M630 121.5h2M638 121.5h3M642 121.5h2M104 122.5h2M118 122.5h2M134 122.5h2M218 122.5h2M229 122.5h7M237 122.5h3M242 122.5h26M270 122.5h5M277 122.5h4M286 122.5h3M291 122.5h2M542 122.5h6M561 122.5h4M566 122.5h2M569 122.5h6M577 122.5h23M601 122.5h22M624 122.5h8M638 122.5h4M52 123.5h2M134 123.5h2M218 123.5h2M222 123.5h2M228 123.5h4M234 123.5h13M248 123.5h7M258 123.5h9M268 123.5h7M277 123.5h4M285 123.5h4M290 123.5h2M542 123.5h6M560 123.5h5M566 123.5h2M569 123.5h4M576 123.5h27M604 123.5h11M616 123.5h14M637 123.5h2M640 123.5h2M52 124.5h2M222 124.5h2M225 124.5h7M235 124.5h3M240 124.5h10M252 124.5h3M258 124.5h24M283 124.5h9M549 124.5h2M558 124.5h5M571 124.5h2M576 124.5h3M580 124.5h29M610 124.5h3M614 124.5h4M620 124.5h8M630 124.5h2M633 124.5h3M637 124.5h2M86 125.5h2M222 125.5h6M230 125.5h2M235 125.5h4M240 125.5h4M246 125.5h5M252 125.5h2M259 125.5h14M274 125.5h8M283 125.5h5M289 125.5h2M294 125.5h2M549 125.5h3M554 125.5h6M571 125.5h2M576 125.5h3M580 125.5h29M610 125.5h9M620 125.5h5M630 125.5h2M633 125.5h3M86 126.5h2M222 126.5h4M235 126.5h4M240 126.5h4M245 126.5h2M248 126.5h6M263 126.5h7M271 126.5h5M278 126.5h7M286 126.5h2M290 126.5h6M550 126.5h2M554 126.5h4M559 126.5h2M566 126.5h4M571 126.5h3M575 126.5h28M604 126.5h21M630 126.5h2M640 126.5h2M223 127.5h2M228 127.5h2M236 127.5h2M244 127.5h5M250 127.5h3M259 127.5h6M266 127.5h4M271 127.5h5M280 127.5h5M286 127.5h2M290 127.5h5M559 127.5h2M566 127.5h4M572 127.5h14M587 127.5h11M600 127.5h13M614 127.5h11M628 127.5h11M640 127.5h2M223 128.5h2M228 128.5h2M244 128.5h5M253 128.5h5M259 128.5h5M266 128.5h10M280 128.5h4M293 128.5h2M567 128.5h3M573 128.5h2M576 128.5h2M580 128.5h16M599 128.5h22M622 128.5h3M627 128.5h17M78 129.5h2M236 129.5h2M244 129.5h2M247 129.5h3M253 129.5h5M262 129.5h2M267 129.5h6M274 129.5h5M280 129.5h5M286 129.5h2M567 129.5h3M577 129.5h2M581 129.5h16M598 129.5h3M602 129.5h14M617 129.5h4M622 129.5h13M639 129.5h6M78 130.5h2M236 130.5h2M242 130.5h2M248 130.5h2M265 130.5h4M271 130.5h14M286 130.5h2M289 130.5h2M577 130.5h2M582 130.5h2M585 130.5h21M607 130.5h7M616 130.5h5M622 130.5h9M632 130.5h2M643 130.5h2M242 131.5h2M265 131.5h2M271 131.5h4M276 131.5h6M283 131.5h2M287 131.5h4M563 131.5h2M586 131.5h2M589 131.5h4M594 131.5h18M613 131.5h9M623 131.5h4M628 131.5h2M632 131.5h4M83 132.5h2M256 132.5h2M269 132.5h2M276 132.5h2M280 132.5h2M283 132.5h2M286 132.5h4M563 132.5h2M568 132.5h2M573 132.5h2M581 132.5h2M584 132.5h2M588 132.5h2M591 132.5h2M594 132.5h17M613 132.5h6M620 132.5h8M630 132.5h6M639 132.5h2M83 133.5h2M256 133.5h2M269 133.5h2M286 133.5h4M294 133.5h2M568 133.5h2M573 133.5h2M581 133.5h2M584 133.5h2M588 133.5h2M594 133.5h5M602 133.5h6M613 133.5h11M626 133.5h6M639 133.5h2M254 134.5h4M263 134.5h2M276 134.5h2M285 134.5h3M294 134.5h2M298 134.5h2M585 134.5h3M590 134.5h6M597 134.5h2M600 134.5h6M608 134.5h3M617 134.5h7M625 134.5h6M632 134.5h3M647 134.5h2M56 135.5h2M254 135.5h4M263 135.5h2M272 135.5h2M276 135.5h2M280 135.5h3M285 135.5h2M289 135.5h2M298 135.5h2M304 135.5h2M578 135.5h2M585 135.5h3M590 135.5h6M599 135.5h3M603 135.5h3M608 135.5h3M617 135.5h10M628 135.5h7M636 135.5h2M647 135.5h2M56 136.5h2M255 136.5h2M263 136.5h2M268 136.5h2M272 136.5h2M280 136.5h3M285 136.5h2M289 136.5h3M295 136.5h2M304 136.5h2M578 136.5h2M587 136.5h2M590 136.5h11M604 136.5h9M618 136.5h9M628 136.5h2M631 136.5h4M636 136.5h3M640 136.5h2M263 137.5h2M267 137.5h3M290 137.5h3M294 137.5h4M299 137.5h2M581 137.5h2M587 137.5h2M591 137.5h2M595 137.5h4M604 137.5h9M618 137.5h4M624 137.5h5M632 137.5h3M637 137.5h2M640 137.5h3M263 138.5h2M267 138.5h2M284 138.5h2M291 138.5h2M294 138.5h7M580 138.5h3M584 138.5h2M591 138.5h2M597 138.5h2M604 138.5h2M608 138.5h2M616 138.5h2M620 138.5h9M630 138.5h3M634 138.5h2M638 138.5h6M649 138.5h2M278 139.5h2M284 139.5h2M294 139.5h2M297 139.5h2M301 139.5h2M580 139.5h2M584 139.5h2M587 139.5h2M591 139.5h2M597 139.5h2M603 139.5h2M608 139.5h2M612 139.5h21M634 139.5h6M642 139.5h4M649 139.5h2M34 140.5h2M260 140.5h2M278 140.5h2M287 140.5h2M291 140.5h5M301 140.5h2M587 140.5h2M591 140.5h2M595 140.5h4M603 140.5h6M612 140.5h4M617 140.5h4M625 140.5h9M636 140.5h3M644 140.5h2M34 141.5h2M260 141.5h2M287 141.5h2M291 141.5h4M299 141.5h2M595 141.5h2M604 141.5h5M612 141.5h4M618 141.5h3M625 141.5h2M628 141.5h8M637 141.5h2M646 141.5h2M299 142.5h2M607 142.5h3M614 142.5h6M625 142.5h2M628 142.5h3M632 142.5h4M637 142.5h3M642 142.5h2M646 142.5h2M285 143.5h2M586 143.5h2M596 143.5h2M604 143.5h2M607 143.5h3M616 143.5h4M622 143.5h2M629 143.5h2M634 143.5h6M642 143.5h2M280 144.5h2M285 144.5h2M586 144.5h2M596 144.5h2M603 144.5h3M611 144.5h2M616 144.5h2M621 144.5h4M631 144.5h2M635 144.5h3M644 144.5h2M280 145.5h2M603 145.5h2M607 145.5h7M621 145.5h4M631 145.5h7M644 145.5h2M290 146.5h2M606 146.5h8M632 146.5h6M644 146.5h2M654 146.5h2M657 146.5h2M290 147.5h2M606 147.5h7M620 147.5h2M634 147.5h4M644 147.5h2M654 147.5h2M657 147.5h2M594 148.5h2M611 148.5h2M620 148.5h2M636 148.5h2M639 148.5h2M644 148.5h2M303 149.5h2M594 149.5h2M611 149.5h4M618 149.5h2M632 149.5h2M637 149.5h4M644 149.5h2M303 150.5h2M613 150.5h2M618 150.5h2M629 150.5h2M632 150.5h2M637 150.5h2M648 150.5h2M604 151.5h2M612 151.5h4M629 151.5h2M648 151.5h2M57 152.5h2M604 152.5h2M612 152.5h4M57 153.5h2M616 153.5h2M317 154.5h2M616 154.5h4M635 154.5h2M317 155.5h2M618 155.5h2M635 155.5h2M627 156.5h2M640 156.5h2M627 157.5h2M640 157.5h2M669 158.5h2M669 159.5h2M638 160.5h2M655 160.5h2M638 161.5h2M655 161.5h2M59 310.5h2M59 311.5h2M652 326.5h2M652 327.5h2M58 329.5h2M80 329.5h2M58 330.5h2M80 330.5h2M85 341.5h2M85 342.5h2M626 345.5h2M626 346.5h2M638 350.5h2M638 351.5h2M125 352.5h2M125 353.5h2M139 353.5h2M119 354.5h2M139 354.5h2M622 354.5h2M88 355.5h2M119 355.5h3M622 355.5h2M88 356.5h2M120 356.5h2M154 356.5h2M106 357.5h2M145 357.5h2M154 357.5h2M106 358.5h2M118 358.5h2M132 358.5h2M145 358.5h2M158 358.5h2M164 358.5h2M112 359.5h2M118 359.5h2M132 359.5h2M158 359.5h2M162 359.5h4M614 359.5h2M112 360.5h2M162 360.5h3M166 360.5h2M614 360.5h2M143 361.5h2M146 361.5h2M150 361.5h2M163 361.5h2M166 361.5h2M622 361.5h2M626 361.5h2M139 362.5h2M143 362.5h2M146 362.5h2M150 362.5h2M154 362.5h2M622 362.5h2M626 362.5h2M121 363.5h2M138 363.5h3M154 363.5h2M170 363.5h2M622 363.5h2M626 363.5h2M630 363.5h2M116 364.5h2M121 364.5h2M136 364.5h4M142 364.5h2M145 364.5h2M169 364.5h3M621 364.5h3M625 364.5h2M630 364.5h2M116 365.5h2M135 365.5h3M142 365.5h2M145 365.5h2M169 365.5h2M172 365.5h2M621 365.5h2M625 365.5h2M36 366.5h2M109 366.5h2M135 366.5h2M149 366.5h2M161 366.5h2M171 366.5h3M612 366.5h2M618 366.5h2M625 366.5h4M36 367.5h2M109 367.5h2M125 367.5h2M148 367.5h3M160 367.5h3M169 367.5h4M184 367.5h2M201 367.5h2M284 367.5h2M612 367.5h2M618 367.5h2M627 367.5h2M631 367.5h2M109 368.5h2M116 368.5h2M125 368.5h2M148 368.5h2M160 368.5h2M169 368.5h2M184 368.5h2M190 368.5h3M201 368.5h2M284 368.5h2M609 368.5h3M616 368.5h4M627 368.5h2M631 368.5h2M109 369.5h2M113 369.5h2M116 369.5h3M129 369.5h3M162 369.5h2M169 369.5h2M190 369.5h3M198 369.5h3M609 369.5h5M616 369.5h2M619 369.5h2M626 369.5h2M113 370.5h2M117 370.5h2M129 370.5h3M137 370.5h4M154 370.5h2M160 370.5h4M168 370.5h2M198 370.5h3M248 370.5h2M262 370.5h2M612 370.5h4M618 370.5h3M623 370.5h2M626 370.5h2M137 371.5h4M154 371.5h3M160 371.5h4M165 371.5h2M168 371.5h2M171 371.5h2M177 371.5h3M184 371.5h2M215 371.5h2M248 371.5h2M259 371.5h2M262 371.5h2M614 371.5h2M618 371.5h2M623 371.5h2M100 372.5h2M108 372.5h2M145 372.5h2M155 372.5h2M162 372.5h2M165 372.5h2M171 372.5h3M177 372.5h5M184 372.5h2M194 372.5h2M200 372.5h2M204 372.5h2M215 372.5h2M259 372.5h2M618 372.5h2M623 372.5h2M631 372.5h2M100 373.5h2M104 373.5h2M108 373.5h2M120 373.5h2M127 373.5h4M145 373.5h2M162 373.5h2M165 373.5h2M171 373.5h3M178 373.5h4M186 373.5h2M194 373.5h2M200 373.5h3M204 373.5h2M207 373.5h4M225 373.5h2M247 373.5h2M611 373.5h2M627 373.5h2M631 373.5h2M104 374.5h2M120 374.5h2M127 374.5h5M134 374.5h2M142 374.5h2M165 374.5h2M168 374.5h5M174 374.5h2M178 374.5h3M186 374.5h2M192 374.5h2M201 374.5h2M207 374.5h4M214 374.5h2M225 374.5h2M247 374.5h2M262 374.5h2M602 374.5h2M609 374.5h4M622 374.5h2M627 374.5h2M122 375.5h2M130 375.5h2M134 375.5h2M139 375.5h2M142 375.5h2M168 375.5h5M174 375.5h2M192 375.5h4M201 375.5h2M214 375.5h2M225 375.5h2M236 375.5h2M262 375.5h2M278 375.5h2M598 375.5h2M602 375.5h2M609 375.5h2M617 375.5h7M122 376.5h2M136 376.5h2M139 376.5h2M161 376.5h2M166 376.5h12M184 376.5h2M188 376.5h8M197 376.5h2M204 376.5h2M211 376.5h2M214 376.5h2M236 376.5h2M278 376.5h2M598 376.5h2M607 376.5h2M617 376.5h5M111 377.5h2M133 377.5h2M136 377.5h2M156 377.5h2M161 377.5h2M166 377.5h4M172 377.5h6M182 377.5h5M188 377.5h5M197 377.5h5M204 377.5h2M211 377.5h2M217 377.5h2M237 377.5h2M240 377.5h2M598 377.5h4M604 377.5h2M607 377.5h2M611 377.5h3M619 377.5h4M111 378.5h2M120 378.5h2M124 378.5h2M127 378.5h2M133 378.5h2M143 378.5h2M152 378.5h2M156 378.5h2M164 378.5h2M171 378.5h2M174 378.5h14M189 378.5h5M195 378.5h2M198 378.5h4M203 378.5h3M207 378.5h2M211 378.5h2M214 378.5h2M217 378.5h2M221 378.5h2M237 378.5h5M249 378.5h2M259 378.5h2M268 378.5h3M277 378.5h2M292 378.5h2M600 378.5h6M607 378.5h3M611 378.5h3M615 378.5h2M618 378.5h5M120 379.5h6M127 379.5h4M143 379.5h2M146 379.5h2M152 379.5h2M161 379.5h2M164 379.5h5M171 379.5h2M174 379.5h14M189 379.5h2M192 379.5h2M195 379.5h6M203 379.5h2M207 379.5h2M211 379.5h2M214 379.5h4M219 379.5h4M239 379.5h3M249 379.5h2M259 379.5h2M268 379.5h3M277 379.5h2M292 379.5h2M600 379.5h4M605 379.5h6M612 379.5h2M615 379.5h6M122 380.5h2M126 380.5h2M129 380.5h6M140 380.5h2M146 380.5h6M155 380.5h2M159 380.5h12M175 380.5h2M178 380.5h5M184 380.5h5M191 380.5h4M197 380.5h4M202 380.5h2M211 380.5h2M216 380.5h5M230 380.5h2M236 380.5h2M243 380.5h2M268 380.5h2M282 380.5h2M319 380.5h2M600 380.5h2M605 380.5h8M615 380.5h7M126 381.5h2M130 381.5h5M139 381.5h5M145 381.5h2M148 381.5h5M155 381.5h2M158 381.5h6M169 381.5h2M174 381.5h9M184 381.5h2M187 381.5h20M214 381.5h2M217 381.5h7M230 381.5h2M236 381.5h2M242 381.5h3M251 381.5h2M257 381.5h2M263 381.5h2M282 381.5h2M319 381.5h2M606 381.5h4M611 381.5h2M615 381.5h4M620 381.5h2M99 382.5h2M114 382.5h2M131 382.5h2M139 382.5h5M145 382.5h2M149 382.5h4M155 382.5h2M158 382.5h3M162 382.5h2M165 382.5h3M169 382.5h2M174 382.5h4M179 382.5h8M189 382.5h20M210 382.5h2M214 382.5h2M220 382.5h5M226 382.5h2M229 382.5h2M242 382.5h2M250 382.5h3M257 382.5h2M263 382.5h2M594 382.5h2M598 382.5h2M601 382.5h2M604 382.5h3M608 382.5h2M615 382.5h7M99 383.5h2M114 383.5h2M120 383.5h2M128 383.5h2M133 383.5h2M137 383.5h2M141 383.5h2M146 383.5h5M153 383.5h2M156 383.5h6M165 383.5h5M172 383.5h2M175 383.5h26M202 383.5h7M210 383.5h4M220 383.5h2M223 383.5h5M229 383.5h2M250 383.5h2M253 383.5h2M263 383.5h2M270 383.5h2M590 383.5h2M594 383.5h13M608 383.5h3M617 383.5h5M99 384.5h2M115 384.5h4M120 384.5h2M123 384.5h2M126 384.5h4M133 384.5h2M137 384.5h3M146 384.5h4M153 384.5h10M165 384.5h2M168 384.5h2M172 384.5h2M176 384.5h17M194 384.5h2M197 384.5h3M201 384.5h8M212 384.5h2M216 384.5h2M224 384.5h3M230 384.5h2M243 384.5h5M250 384.5h2M253 384.5h2M256 384.5h2M259 384.5h2M263 384.5h2M270 384.5h2M273 384.5h2M587 384.5h2M590 384.5h2M595 384.5h3M599 384.5h2M602 384.5h2M605 384.5h6M615 384.5h4M115 385.5h4M122 385.5h3M126 385.5h3M138 385.5h2M150 385.5h2M153 385.5h10M165 385.5h5M172 385.5h2M175 385.5h2M180 385.5h14M195 385.5h15M211 385.5h2M216 385.5h4M224 385.5h3M228 385.5h4M243 385.5h5M250 385.5h2M253 385.5h2M256 385.5h2M259 385.5h2M273 385.5h4M580 385.5h2M586 385.5h3M592 385.5h2M595 385.5h2M599 385.5h2M605 385.5h14M54 386.5h2M106 386.5h2M122 386.5h2M126 386.5h6M150 386.5h2M157 386.5h6M164 386.5h5M172 386.5h6M179 386.5h12M192 386.5h6M200 386.5h10M211 386.5h2M216 386.5h7M225 386.5h6M235 386.5h4M250 386.5h2M275 386.5h2M284 386.5h2M580 386.5h2M586 386.5h2M592 386.5h4M599 386.5h2M602 386.5h15M54 387.5h2M102 387.5h2M106 387.5h4M114 387.5h4M126 387.5h9M146 387.5h2M158 387.5h2M164 387.5h5M171 387.5h7M179 387.5h7M187 387.5h13M202 387.5h8M211 387.5h12M227 387.5h5M235 387.5h6M244 387.5h2M248 387.5h2M256 387.5h2M265 387.5h2M284 387.5h2M287 387.5h2M296 387.5h2M593 387.5h3M601 387.5h5M607 387.5h10M618 387.5h2M102 388.5h2M108 388.5h2M114 388.5h4M125 388.5h2M130 388.5h5M138 388.5h2M141 388.5h3M146 388.5h2M155 388.5h2M158 388.5h3M162 388.5h5M169 388.5h31M203 388.5h21M228 388.5h5M237 388.5h5M244 388.5h2M248 388.5h2M256 388.5h3M265 388.5h2M271 388.5h2M276 388.5h2M287 388.5h2M296 388.5h2M589 388.5h2M594 388.5h4M601 388.5h16M618 388.5h3M109 389.5h6M125 389.5h3M130 389.5h2M135 389.5h2M138 389.5h7M147 389.5h2M150 389.5h7M158 389.5h3M162 389.5h9M172 389.5h2M175 389.5h42M218 389.5h6M226 389.5h13M240 389.5h3M248 389.5h2M252 389.5h2M257 389.5h2M271 389.5h2M276 389.5h2M282 389.5h2M287 389.5h2M589 389.5h2M595 389.5h3M601 389.5h6M608 389.5h4M614 389.5h2M619 389.5h2M109 390.5h6M117 390.5h2M121 390.5h2M126 390.5h2M132 390.5h9M143 390.5h2M147 390.5h2M150 390.5h67M218 390.5h6M225 390.5h13M241 390.5h2M244 390.5h2M248 390.5h2M252 390.5h2M257 390.5h2M262 390.5h2M270 390.5h2M282 390.5h2M285 390.5h2M593 390.5h5M599 390.5h5M605 390.5h3M613 390.5h3M617 390.5h2M114 391.5h2M117 391.5h2M121 391.5h2M128 391.5h11M140 391.5h2M147 391.5h12M160 391.5h3M164 391.5h71M236 391.5h2M239 391.5h2M242 391.5h4M249 391.5h5M257 391.5h2M262 391.5h3M269 391.5h3M273 391.5h2M284 391.5h3M582 391.5h2M591 391.5h12M605 391.5h3M609 391.5h7M617 391.5h2M106 392.5h2M109 392.5h2M114 392.5h2M120 392.5h2M128 392.5h9M140 392.5h2M146 392.5h7M154 392.5h77M233 392.5h8M242 392.5h3M246 392.5h2M249 392.5h5M260 392.5h2M263 392.5h2M269 392.5h2M273 392.5h4M282 392.5h6M289 392.5h2M582 392.5h2M585 392.5h2M590 392.5h4M595 392.5h9M605 392.5h13M106 393.5h2M109 393.5h2M113 393.5h2M116 393.5h2M119 393.5h4M127 393.5h3M133 393.5h2M137 393.5h2M141 393.5h2M144 393.5h4M149 393.5h4M154 393.5h78M233 393.5h7M242 393.5h8M251 393.5h2M260 393.5h2M264 393.5h2M268 393.5h2M272 393.5h5M282 393.5h6M289 393.5h2M585 393.5h24M610 393.5h5M616 393.5h2M103 394.5h2M109 394.5h2M113 394.5h2M116 394.5h9M127 394.5h3M137 394.5h3M141 394.5h12M154 394.5h78M233 394.5h17M251 394.5h5M260 394.5h7M268 394.5h2M272 394.5h4M280 394.5h2M283 394.5h2M286 394.5h2M586 394.5h20M608 394.5h7M617 394.5h2M620 394.5h2M66 395.5h2M103 395.5h2M109 395.5h4M116 395.5h3M121 395.5h4M130 395.5h2M134 395.5h18M154 395.5h90M246 395.5h3M250 395.5h6M261 395.5h8M270 395.5h6M279 395.5h3M286 395.5h2M580 395.5h2M585 395.5h3M589 395.5h4M595 395.5h24M620 395.5h2M66 396.5h2M111 396.5h7M120 396.5h2M126 396.5h7M134 396.5h91M227 396.5h9M237 396.5h7M246 396.5h8M260 396.5h4M267 396.5h2M270 396.5h4M279 396.5h3M286 396.5h2M566 396.5h2M580 396.5h2M585 396.5h25M611 396.5h3M615 396.5h2M100 397.5h2M107 397.5h2M113 397.5h4M120 397.5h2M125 397.5h8M135 397.5h16M152 397.5h93M246 397.5h11M258 397.5h6M268 397.5h2M277 397.5h5M283 397.5h2M566 397.5h2M579 397.5h2M585 397.5h15M604 397.5h10M615 397.5h2M99 398.5h3M107 398.5h2M114 398.5h3M119 398.5h2M124 398.5h4M129 398.5h8M138 398.5h110M249 398.5h8M258 398.5h6M265 398.5h2M268 398.5h2M277 398.5h5M283 398.5h2M290 398.5h2M293 398.5h2M303 398.5h2M564 398.5h2M579 398.5h9M589 398.5h14M604 398.5h10M615 398.5h2M99 399.5h2M111 399.5h2M114 399.5h2M117 399.5h5M123 399.5h4M130 399.5h118M249 399.5h7M259 399.5h2M262 399.5h13M282 399.5h2M290 399.5h2M293 399.5h2M303 399.5h2M564 399.5h2M578 399.5h2M581 399.5h28M610 399.5h3M108 400.5h5M117 400.5h2M120 400.5h2M123 400.5h4M131 400.5h3M135 400.5h7M144 400.5h103M249 400.5h7M257 400.5h4M262 400.5h16M281 400.5h3M291 400.5h2M560 400.5h2M564 400.5h2M578 400.5h2M581 400.5h27M609 400.5h2M106 401.5h5M117 401.5h3M122 401.5h2M125 401.5h2M129 401.5h13M143 401.5h111M255 401.5h5M261 401.5h3M265 401.5h13M281 401.5h4M288 401.5h5M560 401.5h2M565 401.5h2M580 401.5h24M605 401.5h6M616 401.5h2M101 402.5h2M106 402.5h2M112 402.5h4M117 402.5h7M125 402.5h2M129 402.5h125M255 402.5h2M258 402.5h6M265 402.5h17M283 402.5h2M288 402.5h3M565 402.5h2M580 402.5h4M585 402.5h25M616 402.5h2M101 403.5h2M112 403.5h5M119 403.5h4M128 403.5h2M132 403.5h117M250 403.5h2M254 403.5h11M266 403.5h19M286 403.5h5M557 403.5h2M566 403.5h2M569 403.5h2M580 403.5h8M589 403.5h22M102 404.5h2M111 404.5h2M115 404.5h2M121 404.5h2M128 404.5h2M133 404.5h120M254 404.5h13M268 404.5h11M280 404.5h4M286 404.5h2M289 404.5h2M554 404.5h2M557 404.5h2M561 404.5h4M566 404.5h2M569 404.5h6M580 404.5h23M605 404.5h6M99 405.5h2M102 405.5h2M111 405.5h2M114 405.5h2M119 405.5h2M122 405.5h8M133 405.5h6M140 405.5h131M272 405.5h7M280 405.5h2M554 405.5h2M561 405.5h18M580 405.5h17M599 405.5h4M605 405.5h4M99 406.5h2M105 406.5h2M112 406.5h4M119 406.5h2M122 406.5h7M133 406.5h6M140 406.5h92M233 406.5h14M248 406.5h16M265 406.5h15M549 406.5h2M559 406.5h2M564 406.5h15M581 406.5h21M603 406.5h5M95 407.5h2M105 407.5h2M108 407.5h2M112 407.5h2M119 407.5h2M123 407.5h3M127 407.5h2M133 407.5h8M142 407.5h120M265 407.5h3M269 407.5h11M281 407.5h2M284 407.5h2M549 407.5h2M558 407.5h3M562 407.5h3M566 407.5h3M571 407.5h4M577 407.5h31M95 408.5h2M108 408.5h2M117 408.5h4M123 408.5h5M133 408.5h8M142 408.5h120M266 408.5h2M269 408.5h3M273 408.5h3M279 408.5h7M306 408.5h2M558 408.5h3M562 408.5h3M566 408.5h3M571 408.5h34M104 409.5h2M115 409.5h5M123 409.5h2M126 409.5h3M131 409.5h6M138 409.5h3M142 409.5h117M261 409.5h4M266 409.5h2M269 409.5h2M272 409.5h12M306 409.5h2M555 409.5h7M563 409.5h4M568 409.5h2M571 409.5h26M598 409.5h5M615 409.5h2M104 410.5h7M113 410.5h7M121 410.5h4M126 410.5h3M131 410.5h3M135 410.5h2M138 410.5h92M231 410.5h26M258 410.5h2M261 410.5h5M269 410.5h14M555 410.5h4M560 410.5h10M571 410.5h25M598 410.5h6M615 410.5h2M85 411.5h2M106 411.5h17M125 411.5h5M131 411.5h106M238 411.5h11M250 411.5h13M264 411.5h4M269 411.5h9M279 411.5h6M552 411.5h2M555 411.5h2M558 411.5h2M562 411.5h2M566 411.5h40M85 412.5h2M105 412.5h4M111 412.5h2M116 412.5h2M119 412.5h2M122 412.5h2M125 412.5h5M131 412.5h117M249 412.5h22M273 412.5h5M283 412.5h2M539 412.5h3M552 412.5h2M555 412.5h10M566 412.5h21M588 412.5h13M604 412.5h2M613 412.5h2M104 413.5h9M117 413.5h4M122 413.5h8M131 413.5h2M134 413.5h7M142 413.5h132M276 413.5h2M539 413.5h3M549 413.5h2M552 413.5h2M555 413.5h10M566 413.5h33M613 413.5h2M104 414.5h2M109 414.5h4M117 414.5h3M121 414.5h10M135 414.5h8M145 414.5h129M275 414.5h3M281 414.5h2M549 414.5h3M555 414.5h4M560 414.5h5M566 414.5h34M99 415.5h2M111 415.5h5M121 415.5h3M127 415.5h6M137 415.5h2M140 415.5h111M253 415.5h8M263 415.5h4M268 415.5h6M275 415.5h2M279 415.5h4M374 415.5h2M539 415.5h4M548 415.5h5M555 415.5h4M560 415.5h40M92 416.5h2M99 416.5h2M111 416.5h7M122 416.5h4M127 416.5h12M140 416.5h121M264 416.5h10M275 416.5h2M279 416.5h2M374 416.5h2M539 416.5h4M546 416.5h9M557 416.5h40M601 416.5h2M92 417.5h2M111 417.5h2M114 417.5h4M122 417.5h4M127 417.5h4M132 417.5h7M140 417.5h126M267 417.5h5M276 417.5h2M534 417.5h2M542 417.5h9M552 417.5h45M601 417.5h2M106 418.5h2M110 418.5h3M114 418.5h2M123 418.5h6M130 418.5h120M252 418.5h5M258 418.5h9M269 418.5h2M276 418.5h2M280 418.5h2M534 418.5h2M542 418.5h57M106 419.5h2M110 419.5h2M116 419.5h2M122 419.5h2M125 419.5h2M130 419.5h3M134 419.5h8M143 419.5h106M250 419.5h6M257 419.5h18M276 419.5h2M280 419.5h2M417 419.5h2M522 419.5h2M535 419.5h2M539 419.5h6M546 419.5h6M553 419.5h46M116 420.5h5M122 420.5h3M129 420.5h137M267 420.5h8M276 420.5h2M417 420.5h2M521 420.5h3M528 420.5h2M531 420.5h2M535 420.5h3M539 420.5h3M543 420.5h8M552 420.5h43M117 421.5h4M123 421.5h4M129 421.5h2M132 421.5h2M135 421.5h66M202 421.5h64M268 421.5h10M397 421.5h2M521 421.5h2M528 421.5h5M534 421.5h4M541 421.5h2M545 421.5h50M596 421.5h2M118 422.5h2M125 422.5h6M134 422.5h2M137 422.5h129M268 422.5h2M271 422.5h7M395 422.5h4M525 422.5h4M530 422.5h2M534 422.5h2M537 422.5h3M541 422.5h5M548 422.5h47M596 422.5h2M111 423.5h2M117 423.5h3M126 423.5h5M134 423.5h2M138 423.5h5M144 423.5h109M254 423.5h23M395 423.5h2M515 423.5h2M525 423.5h4M532 423.5h4M537 423.5h56M104 424.5h2M111 424.5h2M117 424.5h2M121 424.5h2M124 424.5h2M127 424.5h3M132 424.5h5M139 424.5h3M144 424.5h106M251 424.5h13M265 424.5h10M515 424.5h2M522 424.5h2M529 424.5h2M532 424.5h4M537 424.5h56M104 425.5h2M114 425.5h2M121 425.5h2M124 425.5h2M128 425.5h2M132 425.5h12M147 425.5h45M193 425.5h54M248 425.5h2M251 425.5h23M279 425.5h2M522 425.5h2M525 425.5h2M529 425.5h2M532 425.5h4M537 425.5h5M543 425.5h47M114 426.5h2M123 426.5h2M126 426.5h2M130 426.5h2M133 426.5h134M270 426.5h4M279 426.5h2M480 426.5h2M525 426.5h4M531 426.5h2M534 426.5h2M537 426.5h5M543 426.5h50M115 427.5h2M123 427.5h12M136 427.5h37M174 427.5h94M270 427.5h2M480 427.5h2M506 427.5h2M526 427.5h3M531 427.5h5M537 427.5h56M115 428.5h2M125 428.5h10M136 428.5h125M262 428.5h6M270 428.5h2M282 428.5h2M506 428.5h2M522 428.5h2M526 428.5h2M531 428.5h7M539 428.5h50M123 429.5h2M126 429.5h132M259 429.5h13M278 429.5h2M282 429.5h2M507 429.5h2M512 429.5h2M515 429.5h2M518 429.5h2M522 429.5h6M529 429.5h61M123 430.5h2M126 430.5h11M138 430.5h119M258 430.5h14M276 430.5h4M392 430.5h2M507 430.5h7M515 430.5h2M518 430.5h2M523 430.5h27M551 430.5h28M580 430.5h10M130 431.5h78M209 431.5h48M258 431.5h5M264 431.5h5M274 431.5h4M392 431.5h2M495 431.5h2M499 431.5h2M509 431.5h5M515 431.5h5M521 431.5h2M525 431.5h61M128 432.5h2M132 432.5h2M136 432.5h72M209 432.5h60M274 432.5h2M475 432.5h2M481 432.5h2M493 432.5h4M499 432.5h2M515 432.5h5M521 432.5h3M527 432.5h59M128 433.5h2M132 433.5h2M138 433.5h12M152 433.5h117M475 433.5h2M481 433.5h4M486 433.5h2M493 433.5h2M502 433.5h2M508 433.5h3M515 433.5h3M519 433.5h2M522 433.5h62M127 434.5h5M136 434.5h10M147 434.5h27M175 434.5h75M251 434.5h13M266 434.5h4M272 434.5h2M483 434.5h2M486 434.5h4M500 434.5h4M508 434.5h3M513 434.5h55M570 434.5h16M126 435.5h6M134 435.5h94M229 435.5h37M268 435.5h2M272 435.5h2M466 435.5h2M469 435.5h2M487 435.5h5M493 435.5h2M500 435.5h2M506 435.5h4M512 435.5h74M126 436.5h3M133 436.5h133M277 436.5h2M422 436.5h2M464 436.5h4M469 436.5h2M490 436.5h2M493 436.5h2M501 436.5h2M506 436.5h4M512 436.5h68M581 436.5h2M127 437.5h2M133 437.5h15M149 437.5h98M248 437.5h8M257 437.5h2M260 437.5h6M277 437.5h2M404 437.5h2M422 437.5h2M464 437.5h2M473 437.5h2M493 437.5h2M498 437.5h5M506 437.5h2M511 437.5h72M129 438.5h2M134 438.5h38M173 438.5h81M255 438.5h11M267 438.5h2M404 438.5h2M451 438.5h2M472 438.5h3M486 438.5h2M490 438.5h5M497 438.5h4M504 438.5h6M511 438.5h71M129 439.5h15M145 439.5h112M259 439.5h5M267 439.5h2M451 439.5h2M472 439.5h3M484 439.5h12M497 439.5h83M131 440.5h6M142 440.5h98M241 440.5h11M253 440.5h9M264 440.5h2M269 440.5h2M463 440.5h2M473 440.5h3M477 440.5h2M481 440.5h9M494 440.5h84M133 441.5h2M138 441.5h14M153 441.5h29M183 441.5h69M253 441.5h9M264 441.5h2M269 441.5h2M275 441.5h2M456 441.5h4M463 441.5h2M474 441.5h10M486 441.5h5M492 441.5h85M133 442.5h2M138 442.5h123M266 442.5h2M275 442.5h2M455 442.5h5M464 442.5h2M472 442.5h16M489 442.5h87M133 443.5h2M142 443.5h9M152 443.5h109M266 443.5h2M454 443.5h5M464 443.5h2M467 443.5h3M472 443.5h101M574 443.5h4M133 444.5h2M140 444.5h113M254 444.5h4M280 444.5h2M425 444.5h2M454 444.5h2M457 444.5h2M467 444.5h4M472 444.5h101M574 444.5h4M140 445.5h63M204 445.5h49M255 445.5h2M261 445.5h2M280 445.5h4M425 445.5h2M451 445.5h2M454 445.5h2M457 445.5h6M464 445.5h53M518 445.5h54M143 446.5h111M261 446.5h2M282 446.5h2M444 446.5h2M451 446.5h2M457 446.5h6M464 446.5h108M144 447.5h105M250 447.5h4M257 447.5h2M269 447.5h2M422 447.5h2M444 447.5h4M449 447.5h4M454 447.5h3M458 447.5h3M462 447.5h110M137 448.5h2M144 448.5h3M149 448.5h102M252 448.5h2M257 448.5h4M263 448.5h4M269 448.5h2M422 448.5h4M435 448.5h2M446 448.5h2M449 448.5h119M569 448.5h3M137 449.5h2M142 449.5h2M148 449.5h98M247 449.5h4M252 449.5h4M257 449.5h4M263 449.5h4M424 449.5h2M435 449.5h2M438 449.5h2M451 449.5h78M530 449.5h36M142 450.5h4M148 450.5h103M252 450.5h4M430 450.5h2M437 450.5h3M442 450.5h123M140 451.5h2M144 451.5h2M147 451.5h5M153 451.5h95M249 451.5h3M254 451.5h3M430 451.5h2M437 451.5h129M140 452.5h2M147 452.5h101M250 452.5h2M254 452.5h3M258 452.5h2M262 452.5h2M435 452.5h2M439 452.5h9M450 452.5h10M461 452.5h105M149 453.5h2M152 453.5h95M258 453.5h2M262 453.5h2M435 453.5h2M439 453.5h5M445 453.5h7M453 453.5h106M560 453.5h2M152 454.5h95M249 454.5h2M253 454.5h6M262 454.5h2M435 454.5h2M442 454.5h3M447 454.5h5M453 454.5h106M560 454.5h2M150 455.5h4M157 455.5h88M246 455.5h2M249 455.5h2M253 455.5h6M435 455.5h4M440 455.5h7M449 455.5h106M150 456.5h2M157 456.5h82M242 456.5h6M252 456.5h2M437 456.5h2M440 456.5h2M443 456.5h4M448 456.5h104M156 457.5h84M242 457.5h6M252 457.5h2M436 457.5h2M440 457.5h2M443 457.5h108M156 458.5h2M160 458.5h72M233 458.5h12M246 458.5h2M249 458.5h2M263 458.5h2M436 458.5h2M441 458.5h85M527 458.5h18M546 458.5h5M160 459.5h72M233 459.5h4M238 459.5h4M243 459.5h2M249 459.5h2M263 459.5h2M441 459.5h22M464 459.5h23M488 459.5h35M525 459.5h2M528 459.5h13M542 459.5h4M548 459.5h2M161 460.5h71M241 460.5h10M443 460.5h2M447 460.5h76M524 460.5h17M544 460.5h2M161 461.5h73M241 461.5h2M245 461.5h4M254 461.5h2M443 461.5h2M448 461.5h2M451 461.5h86M164 462.5h63M228 462.5h6M244 462.5h2M254 462.5h2M258 462.5h2M452 462.5h2M456 462.5h76M533 462.5h4M163 463.5h64M230 463.5h4M239 463.5h2M244 463.5h4M251 463.5h2M258 463.5h2M456 463.5h2M460 463.5h72M533 463.5h4M163 464.5h65M229 464.5h6M239 464.5h2M246 464.5h2M251 464.5h2M463 464.5h61M525 464.5h2M529 464.5h4M165 465.5h2M169 465.5h59M229 465.5h6M237 465.5h4M246 465.5h3M470 465.5h54M525 465.5h2M531 465.5h2M170 466.5h56M228 466.5h2M237 466.5h4M247 466.5h2M470 466.5h44M515 466.5h6M525 466.5h2M172 467.5h2M175 467.5h41M219 467.5h7M228 467.5h2M470 467.5h2M481 467.5h6M488 467.5h19M519 467.5h2M171 468.5h3M175 468.5h4M182 468.5h37M220 468.5h4M227 468.5h6M254 468.5h2M483 468.5h15M505 468.5h2M169 469.5h5M175 469.5h3M181 469.5h40M227 469.5h6M254 469.5h2M486 469.5h2M490 469.5h6M505 469.5h2M169 470.5h2M174 470.5h2M181 470.5h3M186 470.5h35M486 470.5h2M174 471.5h2M182 471.5h4M188 471.5h2M191 471.5h18M211 471.5h2M215 471.5h5M182 472.5h4M188 472.5h2M193 472.5h13M181 473.5h2M184 473.5h2M195 473.5h11M181 474.5h2M193 474.5h8M202 474.5h4M208 474.5h2M223 474.5h2M193 475.5h2M198 475.5h2M208 475.5h2M223 475.5h2M200 477.5h2M200 478.5h2M665 601.5h2M665 602.5h2M304 614.5h2M307 614.5h2M319 614.5h2M304 615.5h2M307 615.5h2M319 615.5h2M638 616.5h2M638 617.5h2M650 617.5h2M650 618.5h2M292 620.5h3M292 621.5h3M296 622.5h2M291 623.5h2M295 623.5h3M289 624.5h8M637 624.5h2M640 624.5h2M281 625.5h2M289 625.5h8M637 625.5h5M281 626.5h2M286 626.5h2M290 626.5h4M638 626.5h2M641 626.5h2M283 627.5h9M637 627.5h2M641 627.5h2M645 627.5h2M283 628.5h9M633 628.5h2M637 628.5h2M645 628.5h2M286 629.5h2M289 629.5h4M294 629.5h2M297 629.5h2M633 629.5h4M639 629.5h4M645 629.5h2M648 629.5h2M276 630.5h2M285 630.5h8M294 630.5h2M297 630.5h2M635 630.5h2M639 630.5h4M645 630.5h2M648 630.5h2M276 631.5h7M285 631.5h5M615 631.5h2M627 631.5h2M635 631.5h3M642 631.5h2M276 632.5h12M615 632.5h2M627 632.5h2M634 632.5h4M642 632.5h2M276 633.5h5M283 633.5h5M290 633.5h2M628 633.5h3M632 633.5h5M638 633.5h4M650 633.5h4M276 634.5h5M284 634.5h4M290 634.5h2M628 634.5h3M632 634.5h10M645 634.5h2M650 634.5h4M265 635.5h2M270 635.5h3M276 635.5h5M284 635.5h4M619 635.5h2M622 635.5h2M631 635.5h2M634 635.5h6M645 635.5h2M265 636.5h2M270 636.5h11M284 636.5h4M614 636.5h2M619 636.5h2M622 636.5h2M628 636.5h5M634 636.5h2M638 636.5h2M642 636.5h2M262 637.5h2M266 637.5h2M270 637.5h7M278 637.5h2M613 637.5h3M620 637.5h11M638 637.5h2M642 637.5h2M262 638.5h2M265 638.5h3M271 638.5h2M275 638.5h5M613 638.5h2M620 638.5h10M631 638.5h4M636 638.5h5M262 639.5h2M265 639.5h3M271 639.5h2M274 639.5h2M277 639.5h3M621 639.5h3M627 639.5h17M252 640.5h2M262 640.5h2M265 640.5h3M270 640.5h6M278 640.5h3M607 640.5h2M620 640.5h6M627 640.5h10M638 640.5h6M649 640.5h2M252 641.5h2M258 641.5h2M261 641.5h20M282 641.5h2M285 641.5h2M607 641.5h2M620 641.5h2M623 641.5h12M649 641.5h2M257 642.5h24M282 642.5h2M285 642.5h2M615 642.5h2M618 642.5h4M625 642.5h4M630 642.5h2M633 642.5h2M637 642.5h3M257 643.5h11M269 643.5h5M276 643.5h4M601 643.5h2M614 643.5h3M618 643.5h2M623 643.5h9M633 643.5h7M257 644.5h5M263 644.5h5M269 644.5h11M283 644.5h2M601 644.5h2M608 644.5h2M612 644.5h4M617 644.5h4M622 644.5h9M632 644.5h6M639 644.5h2M642 644.5h2M250 645.5h2M253 645.5h9M264 645.5h6M271 645.5h7M283 645.5h2M595 645.5h2M604 645.5h3M608 645.5h2M612 645.5h4M617 645.5h14M632 645.5h2M639 645.5h2M642 645.5h2M247 646.5h14M264 646.5h8M273 646.5h5M595 646.5h4M604 646.5h9M617 646.5h2M620 646.5h3M624 646.5h4M634 646.5h3M638 646.5h2M247 647.5h4M252 647.5h21M274 647.5h2M597 647.5h3M607 647.5h8M617 647.5h6M624 647.5h4M631 647.5h2M634 647.5h3M638 647.5h2M243 648.5h2M247 648.5h18M266 648.5h10M279 648.5h2M587 648.5h2M598 648.5h2M603 648.5h2M610 648.5h11M623 648.5h5M631 648.5h2M635 648.5h2M240 649.5h2M243 649.5h22M266 649.5h10M279 649.5h2M587 649.5h2M603 649.5h2M614 649.5h14M629 649.5h4M642 649.5h2M236 650.5h2M240 650.5h21M262 650.5h14M586 650.5h3M600 650.5h2M608 650.5h6M616 650.5h12M629 650.5h6M642 650.5h2M236 651.5h2M240 651.5h35M586 651.5h3M592 651.5h2M600 651.5h2M604 651.5h2M608 651.5h21M630 651.5h7M233 652.5h2M238 652.5h37M592 652.5h2M595 652.5h12M609 652.5h20M630 652.5h10M231 653.5h33M265 653.5h6M273 653.5h2M591 653.5h2M595 653.5h9M605 653.5h2M608 653.5h11M621 653.5h4M626 653.5h2M630 653.5h3M635 653.5h5M225 654.5h2M230 654.5h41M578 654.5h2M588 654.5h5M600 654.5h2M608 654.5h9M618 654.5h10M631 654.5h4M636 654.5h2M225 655.5h4M230 655.5h39M271 655.5h2M578 655.5h2M584 655.5h2M588 655.5h3M595 655.5h2M599 655.5h5M606 655.5h21M628 655.5h10M221 656.5h2M225 656.5h41M271 656.5h2M282 656.5h4M573 656.5h2M580 656.5h2M584 656.5h2M588 656.5h4M595 656.5h3M599 656.5h5M606 656.5h14M621 656.5h15M221 657.5h45M282 657.5h4M573 657.5h3M580 657.5h2M583 657.5h2M588 657.5h4M594 657.5h4M599 657.5h6M606 657.5h15M622 657.5h14M217 658.5h2M220 658.5h46M574 658.5h2M583 658.5h2M589 658.5h2M594 658.5h2M599 658.5h2M603 658.5h2M606 658.5h15M622 658.5h8M631 658.5h4M213 659.5h2M217 659.5h47M266 659.5h2M270 659.5h2M577 659.5h4M583 659.5h2M588 659.5h3M594 659.5h2M602 659.5h28M211 660.5h53M266 660.5h2M270 660.5h2M570 660.5h2M577 660.5h5M583 660.5h3M587 660.5h3M594 660.5h3M602 660.5h11M614 660.5h15M636 660.5h2M640 660.5h2M211 661.5h39M251 661.5h13M563 661.5h2M570 661.5h2M573 661.5h2M580 661.5h2M584 661.5h6M595 661.5h2M600 661.5h13M614 661.5h14M629 661.5h2M636 661.5h2M640 661.5h2M207 662.5h55M563 662.5h2M566 662.5h2M573 662.5h2M578 662.5h7M586 662.5h4M591 662.5h6M598 662.5h16M615 662.5h2M618 662.5h13M206 663.5h50M257 663.5h3M400 663.5h2M566 663.5h2M578 663.5h12M591 663.5h10M602 663.5h15M618 663.5h16M205 664.5h51M257 664.5h3M400 664.5h2M571 664.5h2M574 664.5h2M577 664.5h21M599 664.5h24M624 664.5h10M202 665.5h2M205 665.5h43M249 665.5h8M258 665.5h2M546 665.5h2M571 665.5h2M574 665.5h2M577 665.5h4M582 665.5h2M586 665.5h40M627 665.5h5M199 666.5h61M546 666.5h2M576 666.5h2M579 666.5h2M582 666.5h25M609 666.5h8M619 666.5h13M633 666.5h2M196 667.5h60M257 667.5h3M560 667.5h2M573 667.5h2M576 667.5h2M581 667.5h7M590 667.5h26M618 667.5h9M628 667.5h7M194 668.5h62M542 668.5h4M560 668.5h3M569 668.5h6M576 668.5h2M580 668.5h12M593 668.5h24M618 668.5h8M629 668.5h4M192 669.5h63M526 669.5h2M530 669.5h4M539 669.5h2M542 669.5h4M547 669.5h2M555 669.5h2M561 669.5h3M568 669.5h9M580 669.5h51M633 669.5h2M190 670.5h65M257 670.5h2M522 670.5h6M530 670.5h4M539 670.5h4M547 670.5h2M552 670.5h5M560 670.5h4M568 670.5h14M583 670.5h17M601 670.5h7M609 670.5h3M613 670.5h17M633 670.5h2M189 671.5h63M253 671.5h2M257 671.5h2M522 671.5h4M529 671.5h2M537 671.5h2M541 671.5h2M546 671.5h2M552 671.5h6M559 671.5h5M565 671.5h2M571 671.5h2M575 671.5h53M185 672.5h70M258 672.5h2M516 672.5h2M524 672.5h2M529 672.5h2M535 672.5h4M540 672.5h2M546 672.5h2M549 672.5h2M554 672.5h4M559 672.5h8M571 672.5h3M575 672.5h44M620 672.5h2M623 672.5h6M182 673.5h69M252 673.5h3M258 673.5h2M516 673.5h2M520 673.5h2M524 673.5h3M535 673.5h2M538 673.5h4M549 673.5h3M554 673.5h2M563 673.5h11M575 673.5h47M623 673.5h6M177 674.5h70M248 674.5h4M254 674.5h3M496 674.5h2M506 674.5h4M520 674.5h2M525 674.5h2M533 674.5h9M547 674.5h2M550 674.5h2M555 674.5h4M560 674.5h2M564 674.5h58M624 674.5h4M176 675.5h71M249 675.5h4M254 675.5h3M489 675.5h6M496 675.5h2M506 675.5h4M526 675.5h2M530 675.5h2M533 675.5h3M537 675.5h2M540 675.5h2M545 675.5h6M554 675.5h5M560 675.5h2M564 675.5h52M617 675.5h2M620 675.5h2M625 675.5h2M632 675.5h2M172 676.5h76M249 676.5h4M489 676.5h6M505 676.5h2M526 676.5h6M534 676.5h4M539 676.5h2M545 676.5h2M548 676.5h3M553 676.5h5M560 676.5h2M564 676.5h52M617 676.5h2M624 676.5h3M629 676.5h2M632 676.5h2M170 677.5h74M246 677.5h2M249 677.5h2M505 677.5h2M513 677.5h2M518 677.5h2M528 677.5h4M536 677.5h2M539 677.5h2M548 677.5h2M551 677.5h8M560 677.5h3M565 677.5h2M568 677.5h18M587 677.5h32M620 677.5h2M624 677.5h2M629 677.5h2M166 678.5h75M242 678.5h2M249 678.5h2M510 678.5h2M513 678.5h2M518 678.5h2M530 678.5h2M534 678.5h2M539 678.5h4M544 678.5h2M551 678.5h8M560 678.5h39M600 678.5h22M165 679.5h77M377 679.5h2M427 679.5h2M470 679.5h2M479 679.5h2M510 679.5h2M525 679.5h2M534 679.5h2M539 679.5h4M544 679.5h4M553 679.5h5M560 679.5h5M566 679.5h56M161 680.5h78M240 680.5h2M377 680.5h2M427 680.5h2M470 680.5h2M479 680.5h2M492 680.5h6M500 680.5h3M521 680.5h2M525 680.5h2M541 680.5h2M546 680.5h2M553 680.5h3M557 680.5h6M564 680.5h54M620 680.5h2M158 681.5h80M240 681.5h2M243 681.5h2M421 681.5h2M472 681.5h3M489 681.5h2M492 681.5h6M500 681.5h3M510 681.5h2M516 681.5h2M520 681.5h3M533 681.5h2M536 681.5h2M541 681.5h3M546 681.5h2M553 681.5h63M156 682.5h82M243 682.5h2M421 682.5h2M472 682.5h5M486 682.5h2M489 682.5h3M493 682.5h2M496 682.5h2M501 682.5h2M510 682.5h2M516 682.5h2M520 682.5h2M532 682.5h8M542 682.5h6M549 682.5h4M555 682.5h54M610 682.5h8M154 683.5h84M472 683.5h2M475 683.5h2M485 683.5h3M490 683.5h2M493 683.5h2M496 683.5h2M501 683.5h2M513 683.5h2M516 683.5h2M524 683.5h4M532 683.5h2M535 683.5h2M538 683.5h2M544 683.5h10M555 683.5h64M626 683.5h2M152 684.5h85M485 684.5h2M493 684.5h2M498 684.5h2M506 684.5h3M513 684.5h2M516 684.5h4M524 684.5h6M531 684.5h5M540 684.5h3M544 684.5h7M552 684.5h2M555 684.5h64M626 684.5h2M145 685.5h2M148 685.5h83M232 685.5h4M491 685.5h2M498 685.5h2M506 685.5h3M515 685.5h5M521 685.5h4M528 685.5h2M531 685.5h5M540 685.5h3M545 685.5h6M552 685.5h61M614 685.5h4M144 686.5h85M232 686.5h2M399 686.5h2M474 686.5h2M487 686.5h2M491 686.5h2M498 686.5h2M503 686.5h2M509 686.5h2M515 686.5h4M521 686.5h4M528 686.5h5M535 686.5h3M539 686.5h5M545 686.5h4M552 686.5h61M617 686.5h2M141 687.5h78M220 687.5h7M228 687.5h2M399 687.5h2M450 687.5h2M462 687.5h2M474 687.5h2M482 687.5h2M486 687.5h4M491 687.5h2M500 687.5h2M503 687.5h2M507 687.5h4M514 687.5h3M519 687.5h7M528 687.5h3M532 687.5h6M539 687.5h10M550 687.5h2M553 687.5h50M604 687.5h8M615 687.5h4M117 688.5h2M137 688.5h90M228 688.5h3M448 688.5h4M460 688.5h4M482 688.5h2M486 688.5h4M493 688.5h2M500 688.5h2M507 688.5h2M511 688.5h7M519 688.5h10M531 688.5h81M615 688.5h3M117 689.5h2M136 689.5h89M226 689.5h2M229 689.5h2M448 689.5h2M460 689.5h2M467 689.5h4M475 689.5h2M485 689.5h5M493 689.5h2M496 689.5h4M511 689.5h4M516 689.5h2M521 689.5h2M526 689.5h4M531 689.5h80M134 690.5h85M220 690.5h2M226 690.5h2M467 690.5h4M475 690.5h2M485 690.5h2M488 690.5h2M496 690.5h4M506 690.5h2M513 690.5h3M520 690.5h7M528 690.5h82M131 691.5h87M450 691.5h2M460 691.5h2M466 691.5h2M482 691.5h2M493 691.5h2M499 691.5h2M505 691.5h8M514 691.5h2M517 691.5h2M520 691.5h16M538 691.5h72M112 692.5h2M124 692.5h91M450 692.5h2M460 692.5h2M466 692.5h2M482 692.5h2M485 692.5h3M493 692.5h2M499 692.5h2M504 692.5h16M521 692.5h4M527 692.5h9M537 692.5h73M112 693.5h2M124 693.5h70M195 693.5h14M395 693.5h2M429 693.5h2M451 693.5h2M466 693.5h2M485 693.5h3M493 693.5h2M504 693.5h2M507 693.5h7M515 693.5h93M609 693.5h2M102 694.5h2M116 694.5h2M122 694.5h83M206 694.5h3M395 694.5h2M429 694.5h2M451 694.5h2M457 694.5h2M466 694.5h2M469 694.5h2M472 694.5h2M477 694.5h4M487 694.5h5M493 694.5h2M497 694.5h2M509 694.5h5M515 694.5h91M609 694.5h2M102 695.5h2M116 695.5h2M121 695.5h82M457 695.5h2M469 695.5h2M472 695.5h2M477 695.5h8M487 695.5h7M497 695.5h7M509 695.5h5M515 695.5h86M606 695.5h2M90 696.5h2M114 696.5h3M118 696.5h83M449 696.5h2M453 696.5h2M463 696.5h3M472 696.5h2M475 696.5h2M481 696.5h5M487 696.5h8M496 696.5h8M505 696.5h3M510 696.5h5M517 696.5h5M523 696.5h79M606 696.5h2M609 696.5h2M90 697.5h2M114 697.5h3M118 697.5h77M198 697.5h2M449 697.5h2M453 697.5h2M457 697.5h2M463 697.5h3M468 697.5h2M473 697.5h5M484 697.5h3M488 697.5h7M496 697.5h3M502 697.5h2M505 697.5h10M517 697.5h9M528 697.5h74M607 697.5h4M62 698.5h2M104 698.5h2M107 698.5h6M114 698.5h78M193 698.5h2M198 698.5h2M450 698.5h2M456 698.5h3M468 698.5h2M473 698.5h2M476 698.5h2M485 698.5h7M493 698.5h4M498 698.5h104M607 698.5h2M62 699.5h2M104 699.5h2M107 699.5h85M193 699.5h2M450 699.5h2M456 699.5h2M465 699.5h2M472 699.5h6M486 699.5h115M605 699.5h2M83 700.5h2M88 700.5h2M95 700.5h2M106 700.5h2M112 700.5h73M407 700.5h2M465 700.5h3M472 700.5h6M481 700.5h2M486 700.5h8M496 700.5h5M502 700.5h98M605 700.5h2M83 701.5h2M88 701.5h4M95 701.5h2M104 701.5h4M111 701.5h2M116 701.5h67M407 701.5h2M461 701.5h2M465 701.5h3M472 701.5h4M481 701.5h4M486 701.5h7M494 701.5h4M499 701.5h97M597 701.5h2M603 701.5h2M39 702.5h2M57 702.5h2M69 702.5h2M90 702.5h2M104 702.5h2M111 702.5h2M117 702.5h61M179 702.5h4M452 702.5h2M456 702.5h4M461 702.5h2M465 702.5h4M470 702.5h8M481 702.5h4M486 702.5h113M603 702.5h2M39 703.5h2M57 703.5h2M69 703.5h2M106 703.5h3M113 703.5h59M176 703.5h2M452 703.5h2M456 703.5h4M461 703.5h2M465 703.5h7M474 703.5h6M481 703.5h116M100 704.5h2M106 704.5h3M110 704.5h2M113 704.5h56M170 704.5h2M442 704.5h2M451 704.5h2M460 704.5h4M466 704.5h14M481 704.5h116M100 705.5h2M107 705.5h2M110 705.5h2M115 705.5h15M132 705.5h30M163 705.5h3M167 705.5h4M442 705.5h2M448 705.5h5M460 705.5h5M466 705.5h14M482 705.5h113M61 706.5h2M102 706.5h2M110 706.5h6M118 706.5h43M162 706.5h3M169 706.5h2M448 706.5h3M452 706.5h2M459 706.5h14M474 706.5h3M478 706.5h2M483 706.5h112M61 707.5h2M102 707.5h2M110 707.5h10M121 707.5h40M162 707.5h3M448 707.5h2M452 707.5h3M457 707.5h16M474 707.5h2M477 707.5h116M114 708.5h6M121 708.5h4M126 708.5h25M152 708.5h4M158 708.5h3M447 708.5h2M453 708.5h2M457 708.5h2M460 708.5h2M464 708.5h126M591 708.5h2M108 709.5h2M114 709.5h2M126 709.5h9M136 709.5h5M145 709.5h2M149 709.5h4M154 709.5h2M447 709.5h2M450 709.5h2M454 709.5h2M457 709.5h25M483 709.5h106M591 709.5h2M102 710.5h2M108 710.5h2M112 710.5h2M122 710.5h2M126 710.5h10M137 710.5h2M151 710.5h2M427 710.5h4M450 710.5h2M453 710.5h20M474 710.5h115M591 710.5h4M102 711.5h2M112 711.5h3M122 711.5h2M134 711.5h2M427 711.5h4M453 711.5h136M592 711.5h3M113 712.5h2M123 712.5h2M434 712.5h2M449 712.5h2M454 712.5h5M463 712.5h123M592 712.5h2M123 713.5h2M434 713.5h2M449 713.5h2M452 713.5h4M457 713.5h2M461 713.5h124M450 714.5h6M457 714.5h2M461 714.5h122M450 715.5h3M454 715.5h2M457 715.5h2M462 715.5h125M450 716.5h2M455 716.5h2M463 716.5h4M468 716.5h114M583 716.5h4M447 717.5h4M452 717.5h7M464 717.5h13M478 717.5h105M447 718.5h4M452 718.5h3M456 718.5h3M464 718.5h112M578 718.5h5M448 719.5h2M454 719.5h4M462 719.5h114M580 719.5h2M454 720.5h2M462 720.5h112M579 720.5h2M441 721.5h2M451 721.5h3M455 721.5h2M458 721.5h3M463 721.5h109M579 721.5h2M441 722.5h2M446 722.5h2M451 722.5h3M455 722.5h2M458 722.5h3M463 722.5h2M466 722.5h7M474 722.5h99M446 723.5h2M458 723.5h115M458 724.5h27M486 724.5h85M449 725.5h2M459 725.5h108M449 726.5h2M460 726.5h2M463 726.5h9M473 726.5h3M477 726.5h89M463 727.5h16M480 727.5h87M467 728.5h74M542 728.5h19M562 728.5h2M565 728.5h2M467 729.5h4M472 729.5h88M467 730.5h26M494 730.5h67M467 731.5h2M471 731.5h87M559 731.5h2M475 732.5h83M474 733.5h2M477 733.5h51M529 733.5h25M555 733.5h2M474 734.5h2M478 734.5h72M479 735.5h71M484 736.5h61M547 736.5h2M486 737.5h59M486 738.5h2M493 738.5h7M501 738.5h40M493 739.5h7M501 739.5h32M534 739.5h4M495 740.5h2M498 740.5h2M501 740.5h27M510 741.5h3M516 741.5h2M520 741.5h3M510 742.5h2M516 742.5h2" stroke="#1d4672" stroke-width="1" fill="none"/>
<path d="M35 174.22L37.38 171.03L39.76 167.9L42.13 164.83L44.51 161.82L46.89 158.87L49.27 155.99L51.65 153.16L54.03 150.39L56.4 147.68L58.78 145.03L61.16 142.43L63.54 139.89L65.92 137.41L68.29 134.99L70.67 132.61L73.05 130.3L75.43 128.04L77.81 125.83L80.18 123.68L82.56 121.58L84.94 119.53L87.32 117.54L89.7 115.6L92.08 113.71L94.45 111.87L96.83 110.09L99.21 108.36L101.59 106.68L103.97 105.05L106.34 103.47L108.72 101.94L111.1 100.47L113.48 99.04L115.86 97.67L118.24 96.35L120.61 95.08L122.99 93.86L125.37 92.69L127.75 91.57L130.13 90.5L132.5 89.49L134.88 88.52L137.26 87.61L139.64 86.74L142.02 85.93L144.39 85.17L146.77 84.46L149.15 83.8L151.53 83.2L153.91 82.64L156.29 82.14L158.66 81.69L161.04 81.29L163.42 80.94L165.8 80.64L168.18 80.4L170.55 80.21L172.93 80.07L175.31 79.98L177.69 79.95L180.07 79.97L182.45 80.04L184.82 80.17L187.2 80.35L189.58 80.58L191.96 80.87L194.34 81.21L196.71 81.61L199.09 82.06L201.47 82.56L203.85 83.12L206.23 83.73L208.61 84.4L210.98 85.12L213.36 85.9L215.74 86.73L218.12 87.61L220.5 88.56L222.87 89.55L225.25 90.61L227.63 91.71L230.01 92.88L232.39 94.1L234.76 95.37L237.14 96.7L239.52 98.09L241.9 99.53L244.28 101.02L246.66 102.58L249.03 104.19L251.41 105.85L253.79 107.57L256.17 109.34L258.55 111.18L260.92 113.06L263.3 115L265.68 117L268.06 119.05L270.44 121.15L272.82 123.31L275.19 125.53L277.57 127.8L279.95 130.12L282.33 132.5L284.71 134.92L287.08 137.41L289.46 139.94L291.84 142.53L294.22 145.17L296.6 147.86L298.97 150.6L301.35 153.4L303.73 156.24L306.11 159.14L308.49 162.08L310.87 165.07L313.24 168.11L315.62 171.2L318 174.34" stroke="#e41b22" stroke-width="1.3" fill="none" stroke-dasharray="8.5 2"/>
<path d="M23.2 24V209.3H323.9" stroke="#4a4a4a" stroke-width="1.5" fill="none"/>
<path d="M19.6 203.73H23.2" stroke="#4a4a4a" stroke-width="1.1"/>
<text x="16.4" y="203.73" font-size="8.8" font-family='"Liberation Sans", sans-serif' fill="#1a1a1a" text-anchor="middle" transform="rotate(-90 16.4 203.73)">-.2</text>
<path d="M19.6 160.2H23.2" stroke="#4a4a4a" stroke-width="1.1"/>
<text x="16.4" y="160.2" font-size="8.8" font-family='"Liberation Sans", sans-serif' fill="#1a1a1a" text-anchor="middle" transform="rotate(-90 16.4 160.2)">0</text>
<path d="M19.6 116.67H23.2" stroke="#4a4a4a" stroke-width="1.1"/>
<text x="16.4" y="116.67" font-size="8.8" font-family='"Liberation Sans", sans-serif' fill="#1a1a1a" text-anchor="middle" transform="rotate(-90 16.4 116.67)">.2</text>
<path d="M19.6 73.13H23.2" stroke="#4a4a4a" stroke-width="1.1"/>
<text x="16.4" y="73.13" font-size="8.8" font-family='"Liberation Sans", sans-serif' fill="#1a1a1a" text-anchor="middle" transform="rotate(-90 16.4 73.13)">.4</text>
<path d="M19.6 29.6H23.2" stroke="#4a4a4a" stroke-width="1.1"/>
<text x="16.4" y="29.6" font-size="8.8" font-family='"Liberation Sans", sans-serif' fill="#1a1a1a" text-anchor="middle" transform="rotate(-90 16.4 29.6)">.6</text>
<path d="M28.7 209.3V212.9" stroke="#4a4a4a" stroke-width="1.1"/>
<text x="28.7" y="221.8" font-size="8.5" font-family='"Liberation Sans", sans-serif' fill="#1a1a1a" text-anchor="middle">8</text>
<path d="M99 209.3V212.9" stroke="#4a4a4a" stroke-width="1.1"/>
<text x="99" y="221.8" font-size="8.5" font-family='"Liberation Sans", sans-serif' fill="#1a1a1a" text-anchor="middle">10</text>
<path d="M169.3 209.3V212.9" stroke="#4a4a4a" stroke-width="1.1"/>
<text x="169.3" y="221.8" font-size="8.5" font-family='"Liberation Sans", sans-serif' fill="#1a1a1a" text-anchor="middle">12</text>
<path d="M239.6 209.3V212.9" stroke="#4a4a4a" stroke-width="1.1"/>
<text x="239.6" y="221.8" font-size="8.5" font-family='"Liberation Sans", sans-serif' fill="#1a1a1a" text-anchor="middle">14</text>
<path d="M309.9 209.3V212.9" stroke="#4a4a4a" stroke-width="1.1"/>
<text x="309.9" y="221.8" font-size="8.5" font-family='"Liberation Sans", sans-serif' fill="#1a1a1a" text-anchor="middle">16</text>
<text x="7" y="115.9" font-size="8.7" font-family='"Liberation Sans", sans-serif' fill="#1a1a1a" text-anchor="middle" textLength="79.4" lengthAdjust="spacingAndGlyphs" transform="rotate(-90 7 115.9)">Cereal budget share</text>
<text x="133.8" y="230.8" font-size="8.7" font-family='"Liberation Sans", sans-serif' fill="#1a1a1a" textLength="79" lengthAdjust="spacingAndGlyphs">log food expenditure</text>
<rect x="83.6" y="32.7" width="186.3" height="15.3" fill="#fff" stroke="#222" stroke-width="1.1"/>
<rect x="87" y="36.3" width="20.7" height="9.2" fill="#c6c6c6"/>
<text x="112.4" y="43.6" font-size="7.0" font-family='"Liberation Sans", sans-serif' fill="#1a1a1a" textLength="22.8" lengthAdjust="spacingAndGlyphs">95% CI</text>
<rect x="148.3" y="39.35" width="2" height="2" fill="#1d4672"/>
<text x="155.9" y="43.6" font-size="7.0" font-family='"Liberation Sans", sans-serif' fill="#1a1a1a" textLength="38.8" lengthAdjust="spacingAndGlyphs">Fitted values</text>
<path d="M208.3 40.35H218.8" stroke="#e41b22" stroke-width="1.3"/>
<text x="226.1" y="43.6" font-size="7.0" font-family='"Liberation Sans", sans-serif' fill="#1a1a1a" textLength="38.2" lengthAdjust="spacingAndGlyphs">lpoly smooth</text>
<text x="157.5" y="9" font-size="12.5" font-family='"Liberation Serif", serif' fill="#111">a)</text>
<text x="179.7" y="9" font-size="12.5" font-family='"Liberation Serif", serif' fill="#111" textLength="36.5" lengthAdjust="spacingAndGlyphs">Cereals</text>
<path d="M395 111.87L397.31 110.04L399.63 108.24L401.94 106.47L404.25 104.75L406.57 103.06L408.88 101.41L411.19 99.8L413.51 98.23L415.82 96.7L418.13 95.2L420.45 93.75L422.76 92.34L425.07 90.97L427.39 89.64L429.7 88.35L432.02 87.1L434.33 85.89L436.64 84.73L438.96 83.61L441.27 82.53L443.58 81.49L445.9 80.49L448.21 79.54L450.52 78.62L452.84 77.76L455.15 76.93L457.46 76.14L459.78 75.4L462.09 74.7L464.4 74.05L466.72 73.43L469.03 72.86L471.34 72.33L473.66 71.85L475.97 71.4L478.28 71L480.6 70.64L482.91 70.33L485.22 70.05L487.54 69.82L489.85 69.63L492.16 69.48L494.48 69.37L496.79 69.3L499.11 69.28L501.42 69.3L503.73 69.36L506.05 69.46L508.36 69.6L510.67 69.78L512.99 70L515.3 70.27L517.61 70.57L519.93 70.92L522.24 71.31L524.55 71.74L526.87 72.2L529.18 72.71L531.49 73.26L533.81 73.85L536.12 74.48L538.43 75.16L540.75 75.87L543.06 76.62L545.37 77.41L547.69 78.25L550 79.12L552.31 80.03L554.63 80.99L556.94 81.98L559.25 83.02L561.57 84.1L563.88 85.22L566.19 86.38L568.51 87.58L570.82 88.82L573.14 90.11L575.45 91.44L577.76 92.81L580.08 94.22L582.39 95.68L584.7 97.17L587.02 98.72L589.33 100.3L591.64 101.93L593.96 103.61L596.27 105.33L598.58 107.1L600.9 108.91L603.21 110.77L605.52 112.68L607.84 114.63L610.15 116.64L612.46 118.69L614.78 120.79L617.09 122.95L619.4 125.15L621.72 127.41L624.03 129.72L626.34 132.08L628.66 134.5L630.97 136.97L633.28 139.5L635.6 142.09L637.91 144.74L640.23 147.44L642.54 150.21L644.85 153.04L647.17 155.93L649.48 158.89L651.79 161.91L654.11 165L656.42 168.16L658.73 171.39L661.05 174.69L663.36 178.06L665.67 181.5L667.99 185.02L670.3 188.62" stroke="#e41b22" stroke-width="1.3" fill="none" stroke-dasharray="8.5 2"/>
<path d="M383.5 26.3V206.2H676" stroke="#4a4a4a" stroke-width="1.5" fill="none"/>
<path d="M379.9 201.1H383.5" stroke="#4a4a4a" stroke-width="1.1"/>
<text x="376.3" y="201.1" font-size="8.8" font-family='"Liberation Sans", sans-serif' fill="#1a1a1a" text-anchor="middle" transform="rotate(-90 376.3 201.1)">-.4</text>
<path d="M379.9 167.1H383.5" stroke="#4a4a4a" stroke-width="1.1"/>
<text x="376.3" y="167.1" font-size="8.8" font-family='"Liberation Sans", sans-serif' fill="#1a1a1a" text-anchor="middle" transform="rotate(-90 376.3 167.1)">-.2</text>
<path d="M379.9 133.1H383.5" stroke="#4a4a4a" stroke-width="1.1"/>
<text x="376.3" y="133.1" font-size="8.8" font-family='"Liberation Sans", sans-serif' fill="#1a1a1a" text-anchor="middle" transform="rotate(-90 376.3 133.1)">0</text>
<path d="M379.9 99.1H383.5" stroke="#4a4a4a" stroke-width="1.1"/>
<text x="376.3" y="99.1" font-size="8.8" font-family='"Liberation Sans", sans-serif' fill="#1a1a1a" text-anchor="middle" transform="rotate(-90 376.3 99.1)">.2</text>
<path d="M379.9 65.1H383.5" stroke="#4a4a4a" stroke-width="1.1"/>
<text x="376.3" y="65.1" font-size="8.8" font-family='"Liberation Sans", sans-serif' fill="#1a1a1a" text-anchor="middle" transform="rotate(-90 376.3 65.1)">.4</text>
<path d="M379.9 31.1H383.5" stroke="#4a4a4a" stroke-width="1.1"/>
<text x="376.3" y="31.1" font-size="8.8" font-family='"Liberation Sans", sans-serif' fill="#1a1a1a" text-anchor="middle" transform="rotate(-90 376.3 31.1)">.6</text>
<path d="M388.5 206.2V209.8" stroke="#4a4a4a" stroke-width="1.1"/>
<text x="388.5" y="219" font-size="8.5" font-family='"Liberation Sans", sans-serif' fill="#1a1a1a" text-anchor="middle">8</text>
<path d="M457 206.2V209.8" stroke="#4a4a4a" stroke-width="1.1"/>
<text x="457" y="219" font-size="8.5" font-family='"Liberation Sans", sans-serif' fill="#1a1a1a" text-anchor="middle">10</text>
<path d="M525.5 206.2V209.8" stroke="#4a4a4a" stroke-width="1.1"/>
<text x="525.5" y="219" font-size="8.5" font-family='"Liberation Sans", sans-serif' fill="#1a1a1a" text-anchor="middle">12</text>
<path d="M594 206.2V209.8" stroke="#4a4a4a" stroke-width="1.1"/>
<text x="594" y="219" font-size="8.5" font-family='"Liberation Sans", sans-serif' fill="#1a1a1a" text-anchor="middle">14</text>
<path d="M662.5 206.2V209.8" stroke="#4a4a4a" stroke-width="1.1"/>
<text x="662.5" y="219" font-size="8.5" font-family='"Liberation Sans", sans-serif' fill="#1a1a1a" text-anchor="middle">16</text>
<text x="367.2" y="115.2" font-size="8.7" font-family='"Liberation Sans", sans-serif' fill="#1a1a1a" text-anchor="middle" textLength="95.3" lengthAdjust="spacingAndGlyphs" transform="rotate(-90 367.2 115.2)">Root and tuber budget share</text>
<text x="490.6" y="227.4" font-size="8.7" font-family='"Liberation Sans", sans-serif' fill="#1a1a1a" textLength="78.8" lengthAdjust="spacingAndGlyphs">log food expenditure</text>
<rect x="421.3" y="21" width="207.2" height="15.6" fill="#fff" stroke="#222" stroke-width="1.1"/>
<rect x="424.6" y="24.8" width="19.9" height="8.2" fill="#c6c6c6"/>
<text x="449.7" y="32" font-size="8.5" font-family='"Liberation Sans", sans-serif' fill="#1a1a1a" textLength="27.9" lengthAdjust="spacingAndGlyphs">95% CI</text>
<rect x="490.1" y="27.8" width="2" height="2" fill="#1d4672"/>
<text x="498.5" y="32" font-size="8.5" font-family='"Liberation Sans", sans-serif' fill="#1a1a1a" textLength="48.2" lengthAdjust="spacingAndGlyphs">Fitted values</text>
<path d="M558.7 28.8H569.1" stroke="#e41b22" stroke-width="1.3"/>
<path d="M571.1 28.8h1.2" stroke="#e41b22" stroke-width="1.2"/>
<text x="576.8" y="32" font-size="8.5" font-family='"Liberation Sans", sans-serif' fill="#1a1a1a" textLength="47.1" lengthAdjust="spacingAndGlyphs">lpoly smooth</text>
<text x="478" y="9.2" font-size="13.0" font-family='"Liberation Serif", serif' fill="#111" textLength="106" lengthAdjust="spacingAndGlyphs">b) Roots and  tubers</text>
<path d="M36.6 314.3L38.98 317.39L41.36 320.48L43.73 323.56L46.11 326.63L48.49 329.69L50.87 332.72L53.25 335.74L55.63 338.73L58 341.7L60.38 344.65L62.76 347.56L65.14 350.45L67.52 353.3L69.89 356.12L72.27 358.9L74.65 361.65L77.03 364.36L79.41 367.03L81.78 369.65L84.16 372.24L86.54 374.78L88.92 377.27L91.3 379.72L93.68 382.12L96.05 384.47L98.43 386.78L100.81 389.03L103.19 391.23L105.57 393.38L107.94 395.48L110.32 397.53L112.7 399.52L115.08 401.46L117.46 403.34L119.84 405.17L122.21 406.95L124.59 408.67L126.97 410.33L129.35 411.94L131.73 413.49L134.1 414.98L136.48 416.42L138.86 417.8L141.24 419.12L143.62 420.39L145.99 421.6L148.37 422.75L150.75 423.85L153.13 424.88L155.51 425.87L157.89 426.79L160.26 427.66L162.64 428.47L165.02 429.23L167.4 429.93L169.78 430.58L172.15 431.16L174.53 431.7L176.91 432.18L179.29 432.6L181.67 432.96L184.05 433.28L186.42 433.53L188.8 433.74L191.18 433.89L193.56 433.98L195.94 434.02L198.31 434.01L200.69 433.94L203.07 433.82L205.45 433.65L207.83 433.42L210.21 433.14L212.58 432.8L214.96 432.42L217.34 431.98L219.72 431.48L222.1 430.93L224.47 430.33L226.85 429.68L229.23 428.97L231.61 428.21L233.99 427.39L236.36 426.52L238.74 425.6L241.12 424.62L243.5 423.58L245.88 422.49L248.26 421.35L250.63 420.14L253.01 418.88L255.39 417.56L257.77 416.19L260.15 414.75L262.52 413.25L264.9 411.69L267.28 410.08L269.66 408.39L272.04 406.65L274.42 404.84L276.79 402.96L279.17 401.01L281.55 399L283.93 396.92L286.31 394.76L288.68 392.54L291.06 390.23L293.44 387.86L295.82 385.4L298.2 382.86L300.57 380.24L302.95 377.54L305.33 374.75L307.71 371.88L310.09 368.91L312.47 365.85L314.84 362.7L317.22 359.45L319.6 356.09" stroke="#e41b22" stroke-width="1.3" fill="none" stroke-dasharray="8.5 2"/>
<path d="M24.8 299.7V480.7H325.5" stroke="#4a4a4a" stroke-width="1.5" fill="none"/>
<path d="M21.2 468.4H24.8" stroke="#4a4a4a" stroke-width="1.1"/>
<text x="18" y="468.4" font-size="8.8" font-family='"Liberation Sans", sans-serif' fill="#1a1a1a" text-anchor="middle" transform="rotate(-90 18 468.4)">.05</text>
<path d="M21.2 436.2H24.8" stroke="#4a4a4a" stroke-width="1.1"/>
<text x="18" y="436.2" font-size="8.8" font-family='"Liberation Sans", sans-serif' fill="#1a1a1a" text-anchor="middle" transform="rotate(-90 18 436.2)">.1</text>
<path d="M21.2 404H24.8" stroke="#4a4a4a" stroke-width="1.1"/>
<text x="18" y="404" font-size="8.8" font-family='"Liberation Sans", sans-serif' fill="#1a1a1a" text-anchor="middle" transform="rotate(-90 18 404)">.15</text>
<path d="M21.2 371.8H24.8" stroke="#4a4a4a" stroke-width="1.1"/>
<text x="18" y="371.8" font-size="8.8" font-family='"Liberation Sans", sans-serif' fill="#1a1a1a" text-anchor="middle" transform="rotate(-90 18 371.8)">.2</text>
<path d="M21.2 339.6H24.8" stroke="#4a4a4a" stroke-width="1.1"/>
<text x="18" y="339.6" font-size="8.8" font-family='"Liberation Sans", sans-serif' fill="#1a1a1a" text-anchor="middle" transform="rotate(-90 18 339.6)">.25</text>
<path d="M21.2 307.4H24.8" stroke="#4a4a4a" stroke-width="1.1"/>
<text x="18" y="307.4" font-size="8.8" font-family='"Liberation Sans", sans-serif' fill="#1a1a1a" text-anchor="middle" transform="rotate(-90 18 307.4)">.3</text>
<path d="M30.3 480.7V484.3" stroke="#4a4a4a" stroke-width="1.1"/>
<text x="30.3" y="493.8" font-size="8.5" font-family='"Liberation Sans", sans-serif' fill="#1a1a1a" text-anchor="middle">8</text>
<path d="M100.7 480.7V484.3" stroke="#4a4a4a" stroke-width="1.1"/>
<text x="100.7" y="493.8" font-size="8.5" font-family='"Liberation Sans", sans-serif' fill="#1a1a1a" text-anchor="middle">10</text>
<path d="M171.1 480.7V484.3" stroke="#4a4a4a" stroke-width="1.1"/>
<text x="171.1" y="493.8" font-size="8.5" font-family='"Liberation Sans", sans-serif' fill="#1a1a1a" text-anchor="middle">12</text>
<path d="M241.5 480.7V484.3" stroke="#4a4a4a" stroke-width="1.1"/>
<text x="241.5" y="493.8" font-size="8.5" font-family='"Liberation Sans", sans-serif' fill="#1a1a1a" text-anchor="middle">14</text>
<path d="M311.9 480.7V484.3" stroke="#4a4a4a" stroke-width="1.1"/>
<text x="311.9" y="493.8" font-size="8.5" font-family='"Liberation Sans", sans-serif' fill="#1a1a1a" text-anchor="middle">16</text>
<text x="9" y="385.8" font-size="8.8" font-family='"Liberation Sans", sans-serif' fill="#1a1a1a" text-anchor="middle" textLength="88.7" lengthAdjust="spacingAndGlyphs" transform="rotate(-90 9 385.8)">Vegetables budget share</text>
<text x="135.8" y="502.2" font-size="8.8" font-family='"Liberation Sans", sans-serif' fill="#1a1a1a" textLength="79.6" lengthAdjust="spacingAndGlyphs">log food expenditure</text>
<rect x="68.6" y="293.4" width="212.8" height="15.4" fill="#fff" stroke="#222" stroke-width="1.1"/>
<rect x="72" y="297" width="20.3" height="8.3" fill="#c6c6c6"/>
<text x="97.1" y="304.3" font-size="8.7" font-family='"Liberation Sans", sans-serif' fill="#1a1a1a" textLength="28.9" lengthAdjust="spacingAndGlyphs">95% CI</text>
<rect x="139.5" y="300.1" width="2" height="2" fill="#1d4672"/>
<text x="146.9" y="304.3" font-size="8.7" font-family='"Liberation Sans", sans-serif' fill="#1a1a1a" textLength="49.8" lengthAdjust="spacingAndGlyphs">Fitted values</text>
<path d="M209.5 301.1H220.7" stroke="#e41b22" stroke-width="1.3"/>
<text x="227.2" y="304.3" font-size="8.7" font-family='"Liberation Sans", sans-serif' fill="#1a1a1a" textLength="49.1" lengthAdjust="spacingAndGlyphs">lpoly smooth</text>
<text x="157.5" y="267.6" font-size="12.8" font-family='"Liberation Serif", serif' fill="#111">c)</text>
<text x="180.3" y="267.6" font-size="12.8" font-family='"Liberation Serif", serif' fill="#111" textLength="55.1" lengthAdjust="spacingAndGlyphs">Vegetables</text>
<path d="M375.3 393.39L377.62 396.22L379.95 398.98L382.27 401.67L384.6 404.28L386.92 406.82L389.25 409.3L391.57 411.7L393.89 414.03L396.22 416.3L398.54 418.5L400.87 420.64L403.19 422.72L405.52 424.73L407.84 426.68L410.17 428.56L412.49 430.39L414.81 432.16L417.14 433.87L419.46 435.52L421.79 437.11L424.11 438.65L426.44 440.13L428.76 441.55L431.08 442.92L433.41 444.23L435.73 445.49L438.06 446.69L440.38 447.84L442.71 448.93L445.03 449.97L447.36 450.96L449.68 451.89L452 452.78L454.33 453.6L456.65 454.38L458.98 455.1L461.3 455.77L463.63 456.39L465.95 456.95L468.27 457.46L470.6 457.92L472.92 458.33L475.25 458.68L477.57 458.98L479.9 459.23L482.22 459.42L484.55 459.56L486.87 459.65L489.19 459.68L491.52 459.66L493.84 459.58L496.17 459.45L498.49 459.27L500.82 459.03L503.14 458.74L505.46 458.39L507.79 457.99L510.11 457.53L512.44 457.02L514.76 456.44L517.09 455.82L519.41 455.13L521.74 454.39L524.06 453.6L526.38 452.74L528.71 451.83L531.03 450.86L533.36 449.83L535.68 448.74L538.01 447.6L540.33 446.4L542.65 445.13L544.98 443.81L547.3 442.43L549.63 440.99L551.95 439.49L554.28 437.93L556.6 436.31L558.93 434.63L561.25 432.9L563.57 431.1L565.9 429.24L568.22 427.32L570.55 425.34L572.87 423.3L575.2 421.19L577.52 419.03L579.84 416.81L582.17 414.53L584.49 412.19L586.82 409.79L589.14 407.33L591.47 404.81L593.79 402.23L596.12 399.59L598.44 396.89L600.76 394.14L603.09 391.33L605.41 388.46L607.74 385.53L610.06 382.54L612.39 379.5L614.71 376.41L617.03 373.26L619.36 370.05L621.68 366.79L624.01 363.48L626.33 360.11L628.66 356.7L630.98 353.23L633.31 349.71L635.63 346.15L637.95 342.53L640.28 338.87L642.6 335.17L644.93 331.42L647.25 327.62L649.58 323.78L651.9 319.91" stroke="#e41b22" stroke-width="1.3" fill="none" stroke-dasharray="8.5 2"/>
<path d="M363.4 294.2V476.5H659" stroke="#4a4a4a" stroke-width="1.5" fill="none"/>
<path d="M359.8 462.7H363.4" stroke="#4a4a4a" stroke-width="1.1"/>
<text x="356" y="462.7" font-size="8.8" font-family='"Liberation Sans", sans-serif' fill="#1a1a1a" text-anchor="middle" transform="rotate(-90 356 462.7)">0</text>
<path d="M359.8 430H363.4" stroke="#4a4a4a" stroke-width="1.1"/>
<text x="356" y="430" font-size="8.8" font-family='"Liberation Sans", sans-serif' fill="#1a1a1a" text-anchor="middle" transform="rotate(-90 356 430)">.05</text>
<path d="M359.8 397.3H363.4" stroke="#4a4a4a" stroke-width="1.1"/>
<text x="356" y="397.3" font-size="8.8" font-family='"Liberation Sans", sans-serif' fill="#1a1a1a" text-anchor="middle" transform="rotate(-90 356 397.3)">.1</text>
<path d="M359.8 364.6H363.4" stroke="#4a4a4a" stroke-width="1.1"/>
<text x="356" y="364.6" font-size="8.8" font-family='"Liberation Sans", sans-serif' fill="#1a1a1a" text-anchor="middle" transform="rotate(-90 356 364.6)">.15</text>
<path d="M359.8 331.9H363.4" stroke="#4a4a4a" stroke-width="1.1"/>
<text x="356" y="331.9" font-size="8.8" font-family='"Liberation Sans", sans-serif' fill="#1a1a1a" text-anchor="middle" transform="rotate(-90 356 331.9)">.2</text>
<path d="M359.8 299.2H363.4" stroke="#4a4a4a" stroke-width="1.1"/>
<text x="356" y="299.2" font-size="8.8" font-family='"Liberation Sans", sans-serif' fill="#1a1a1a" text-anchor="middle" transform="rotate(-90 356 299.2)">.25</text>
<path d="M368.2 476.5V480.1" stroke="#4a4a4a" stroke-width="1.1"/>
<text x="368.2" y="489.5" font-size="8.5" font-family='"Liberation Sans", sans-serif' fill="#1a1a1a" text-anchor="middle">8</text>
<path d="M437.7 476.5V480.1" stroke="#4a4a4a" stroke-width="1.1"/>
<text x="437.7" y="489.5" font-size="8.5" font-family='"Liberation Sans", sans-serif' fill="#1a1a1a" text-anchor="middle">10</text>
<path d="M507.2 476.5V480.1" stroke="#4a4a4a" stroke-width="1.1"/>
<text x="507.2" y="489.5" font-size="8.5" font-family='"Liberation Sans", sans-serif' fill="#1a1a1a" text-anchor="middle">12</text>
<path d="M576.7 476.5V480.1" stroke="#4a4a4a" stroke-width="1.1"/>
<text x="576.7" y="489.5" font-size="8.5" font-family='"Liberation Sans", sans-serif' fill="#1a1a1a" text-anchor="middle">14</text>
<path d="M646.2 476.5V480.1" stroke="#4a4a4a" stroke-width="1.1"/>
<text x="646.2" y="489.5" font-size="8.5" font-family='"Liberation Sans", sans-serif' fill="#1a1a1a" text-anchor="middle">16</text>
<text x="347.2" y="384.5" font-size="8.8" font-family='"Liberation Sans", sans-serif' fill="#1a1a1a" text-anchor="middle" textLength="101.5" lengthAdjust="spacingAndGlyphs" transform="rotate(-90 347.2 384.5)">Meat product budget share</text>
<text x="471.9" y="497.7" font-size="8.7" font-family='"Liberation Sans", sans-serif' fill="#1a1a1a" textLength="78.6" lengthAdjust="spacingAndGlyphs">log food expenditure</text>
<rect x="404.8" y="294.8" width="209.7" height="16.5" fill="#fff" stroke="#222" stroke-width="1.1"/>
<rect x="409" y="298.6" width="19.9" height="8.8" fill="#c6c6c6"/>
<text x="433.7" y="306.3" font-size="8.6" font-family='"Liberation Sans", sans-serif' fill="#1a1a1a" textLength="28" lengthAdjust="spacingAndGlyphs">95% CI</text>
<rect x="475.4" y="302.05" width="2" height="2" fill="#1d4672"/>
<text x="482.9" y="306.3" font-size="8.6" font-family='"Liberation Sans", sans-serif' fill="#1a1a1a" textLength="48.8" lengthAdjust="spacingAndGlyphs">Fitted values</text>
<path d="M544.5 303.05H555.7" stroke="#e41b22" stroke-width="1.3"/>
<text x="561.5" y="306.3" font-size="8.6" font-family='"Liberation Sans", sans-serif' fill="#1a1a1a" textLength="48.8" lengthAdjust="spacingAndGlyphs">lpoly smooth</text>
<text x="438.8" y="267.7" font-size="13.0" font-family='"Liberation Serif", serif' fill="#111">d)</text>
<text x="456.4" y="267.7" font-size="13.0" font-family='"Liberation Serif", serif' fill="#111" textLength="75" lengthAdjust="spacingAndGlyphs">Meat products</text>
<path d="M40.1 693.36L42.45 693.76L44.8 694.15L47.16 694.53L49.51 694.91L51.86 695.27L54.21 695.62L56.56 695.97L58.92 696.3L61.27 696.62L63.62 696.92L65.97 697.22L68.33 697.49L70.68 697.76L73.03 698.01L75.38 698.24L77.73 698.46L80.09 698.66L82.44 698.85L84.79 699.02L87.14 699.17L89.49 699.3L91.85 699.42L94.2 699.51L96.55 699.59L98.9 699.64L101.25 699.68L103.61 699.69L105.96 699.69L108.31 699.66L110.66 699.61L113.02 699.54L115.37 699.45L117.72 699.34L120.07 699.2L122.42 699.04L124.78 698.86L127.13 698.65L129.48 698.42L131.83 698.17L134.18 697.9L136.54 697.6L138.89 697.27L141.24 696.92L143.59 696.55L145.94 696.15L148.3 695.73L150.65 695.28L153 694.81L155.35 694.31L157.71 693.78L160.06 693.24L162.41 692.66L164.76 692.06L167.11 691.44L169.47 690.79L171.82 690.11L174.17 689.41L176.52 688.68L178.87 687.93L181.23 687.15L183.58 686.35L185.93 685.52L188.28 684.67L190.63 683.79L192.99 682.89L195.34 681.96L197.69 681L200.04 680.02L202.39 679.02L204.75 677.99L207.1 676.94L209.45 675.86L211.8 674.76L214.16 673.63L216.51 672.48L218.86 671.31L221.21 670.11L223.56 668.89L225.92 667.64L228.27 666.38L230.62 665.08L232.97 663.77L235.32 662.44L237.68 661.08L240.03 659.7L242.38 658.29L244.73 656.87L247.08 655.43L249.44 653.96L251.79 652.47L254.14 650.97L256.49 649.44L258.85 647.89L261.2 646.32L263.55 644.74L265.9 643.13L268.25 641.51L270.61 639.87L272.96 638.2L275.31 636.53L277.66 634.83L280.01 633.12L282.37 631.39L284.72 629.65L287.07 627.88L289.42 626.11L291.77 624.32L294.13 622.51L296.48 620.69L298.83 618.85L301.18 617.01L303.54 615.15L305.89 613.27L308.24 611.38L310.59 609.49L312.94 607.58L315.3 605.66L317.65 603.72L320 601.78" stroke="#e41b22" stroke-width="1.3" fill="none" stroke-dasharray="10 1.6"/>
<path d="M28.7 564.6V747.5H325.9" stroke="#4a4a4a" stroke-width="1.5" fill="none"/>
<path d="M25.1 742.43H28.7" stroke="#4a4a4a" stroke-width="1.1"/>
<text x="21.3" y="742.43" font-size="8.8" font-family='"Liberation Sans", sans-serif' fill="#1a1a1a" text-anchor="middle" transform="rotate(-90 21.3 742.43)">-.05</text>
<path d="M25.1 699.2H28.7" stroke="#4a4a4a" stroke-width="1.1"/>
<text x="21.3" y="699.2" font-size="8.8" font-family='"Liberation Sans", sans-serif' fill="#1a1a1a" text-anchor="middle" transform="rotate(-90 21.3 699.2)">0</text>
<path d="M25.1 655.97H28.7" stroke="#4a4a4a" stroke-width="1.1"/>
<text x="21.3" y="655.97" font-size="8.8" font-family='"Liberation Sans", sans-serif' fill="#1a1a1a" text-anchor="middle" transform="rotate(-90 21.3 655.97)">.05</text>
<path d="M25.1 612.73H28.7" stroke="#4a4a4a" stroke-width="1.1"/>
<text x="21.3" y="612.73" font-size="8.8" font-family='"Liberation Sans", sans-serif' fill="#1a1a1a" text-anchor="middle" transform="rotate(-90 21.3 612.73)">.1</text>
<path d="M25.1 569.5H28.7" stroke="#4a4a4a" stroke-width="1.1"/>
<text x="21.3" y="569.5" font-size="8.8" font-family='"Liberation Sans", sans-serif' fill="#1a1a1a" text-anchor="middle" transform="rotate(-90 21.3 569.5)">.15</text>
<path d="M33.7 747.5V751.1" stroke="#4a4a4a" stroke-width="1.1"/>
<text x="33.7" y="760.5" font-size="8.5" font-family='"Liberation Sans", sans-serif' fill="#1a1a1a" text-anchor="middle">8</text>
<path d="M103.7 747.5V751.1" stroke="#4a4a4a" stroke-width="1.1"/>
<text x="103.7" y="760.5" font-size="8.5" font-family='"Liberation Sans", sans-serif' fill="#1a1a1a" text-anchor="middle">10</text>
<path d="M173.7 747.5V751.1" stroke="#4a4a4a" stroke-width="1.1"/>
<text x="173.7" y="760.5" font-size="8.5" font-family='"Liberation Sans", sans-serif' fill="#1a1a1a" text-anchor="middle">12</text>
<path d="M243.7 747.5V751.1" stroke="#4a4a4a" stroke-width="1.1"/>
<text x="243.7" y="760.5" font-size="8.5" font-family='"Liberation Sans", sans-serif' fill="#1a1a1a" text-anchor="middle">14</text>
<path d="M313.7 747.5V751.1" stroke="#4a4a4a" stroke-width="1.1"/>
<text x="313.7" y="760.5" font-size="8.5" font-family='"Liberation Sans", sans-serif' fill="#1a1a1a" text-anchor="middle">16</text>
<text x="12.2" y="655.3" font-size="8.8" font-family='"Liberation Sans", sans-serif' fill="#1a1a1a" text-anchor="middle" textLength="89.9" lengthAdjust="spacingAndGlyphs" transform="rotate(-90 12.2 655.3)">Beverage budget share</text>
<text x="138.5" y="769.2" font-size="8.7" font-family='"Liberation Sans", sans-serif' fill="#1a1a1a" textLength="79" lengthAdjust="spacingAndGlyphs">log food expenditure</text>
<rect x="70.8" y="563.1" width="210.4" height="16.4" fill="#fff" stroke="#222" stroke-width="1.1"/>
<rect x="74" y="567" width="20.5" height="8.5" fill="#c6c6c6"/>
<text x="99.4" y="574.5" font-size="8.6" font-family='"Liberation Sans", sans-serif' fill="#1a1a1a" textLength="28.2" lengthAdjust="spacingAndGlyphs">95% CI</text>
<rect x="141" y="570.3" width="2" height="2" fill="#1d4672"/>
<text x="149.1" y="574.5" font-size="8.6" font-family='"Liberation Sans", sans-serif' fill="#1a1a1a" textLength="48.2" lengthAdjust="spacingAndGlyphs">Fitted values</text>
<path d="M210.5 571.3H221.4" stroke="#e41b22" stroke-width="1.3"/>
<text x="228.1" y="574.5" font-size="8.6" font-family='"Liberation Sans", sans-serif' fill="#1a1a1a" textLength="48.9" lengthAdjust="spacingAndGlyphs">lpoly smooth</text>
<text x="145.6" y="536.9" font-size="13.6" font-family='"Liberation Serif", serif' fill="#111" font-weight="bold" textLength="78.3" lengthAdjust="spacingAndGlyphs">e) Beverages</text>
<path d="M377.7 637.43L380.12 640.62L382.55 643.75L384.97 646.81L387.39 649.81L389.82 652.75L392.24 655.62L394.66 658.44L397.09 661.19L399.51 663.88L401.94 666.52L404.36 669.09L406.78 671.61L409.21 674.06L411.63 676.46L414.05 678.8L416.48 681.08L418.9 683.3L421.32 685.46L423.75 687.57L426.17 689.62L428.59 691.61L431.02 693.54L433.44 695.42L435.86 697.23L438.29 698.99L440.71 700.69L443.14 702.34L445.56 703.92L447.98 705.45L450.41 706.92L452.83 708.34L455.25 709.69L457.68 710.98L460.1 712.22L462.52 713.4L464.95 714.52L467.37 715.57L469.79 716.57L472.22 717.51L474.64 718.39L477.06 719.21L479.49 719.97L481.91 720.67L484.34 721.3L486.76 721.88L489.18 722.39L491.61 722.84L494.03 723.23L496.45 723.55L498.88 723.82L501.3 724.02L503.72 724.15L506.15 724.22L508.57 724.23L510.99 724.17L513.42 724.05L515.84 723.86L518.26 723.61L520.69 723.29L523.11 722.91L525.54 722.46L527.96 721.94L530.38 721.35L532.81 720.7L535.23 719.98L537.65 719.2L540.08 718.34L542.5 717.42L544.92 716.43L547.35 715.37L549.77 714.24L552.19 713.04L554.62 711.78L557.04 710.44L559.46 709.04L561.89 707.56L564.31 706.02L566.74 704.41L569.16 702.73L571.58 700.97L574.01 699.15L576.43 697.26L578.85 695.3L581.28 693.27L583.7 691.18L586.12 689.01L588.55 686.77L590.97 684.47L593.39 682.09L595.82 679.65L598.24 677.14L600.66 674.56L603.09 671.92L605.51 669.2L607.94 666.42L610.36 663.58L612.78 660.67L615.21 657.69L617.63 654.65L620.05 651.54L622.48 648.37L624.9 645.14L627.32 641.85L629.75 638.49L632.17 635.07L634.59 631.6L637.02 628.06L639.44 624.47L641.86 620.81L644.29 617.11L646.71 613.34L649.14 609.52L651.56 605.65L653.98 601.73L656.41 597.76L658.83 593.73L661.25 589.66L663.68 585.54L666.1 581.38" stroke="#e41b22" stroke-width="1.3" fill="none" stroke-dasharray="8.5 2"/>
<path d="M365.7 557V744.9H671.8" stroke="#4a4a4a" stroke-width="1.5" fill="none"/>
<path d="M362.1 740H365.7" stroke="#4a4a4a" stroke-width="1.1"/>
<text x="358.2" y="740" font-size="8.8" font-family='"Liberation Sans", sans-serif' fill="#1a1a1a" text-anchor="middle" transform="rotate(-90 358.2 740)">0</text>
<path d="M362.1 695.4H365.7" stroke="#4a4a4a" stroke-width="1.1"/>
<text x="358.2" y="695.4" font-size="8.8" font-family='"Liberation Sans", sans-serif' fill="#1a1a1a" text-anchor="middle" transform="rotate(-90 358.2 695.4)">.2</text>
<path d="M362.1 650.8H365.7" stroke="#4a4a4a" stroke-width="1.1"/>
<text x="358.2" y="650.8" font-size="8.8" font-family='"Liberation Sans", sans-serif' fill="#1a1a1a" text-anchor="middle" transform="rotate(-90 358.2 650.8)">.4</text>
<path d="M362.1 606.2H365.7" stroke="#4a4a4a" stroke-width="1.1"/>
<text x="358.2" y="606.2" font-size="8.8" font-family='"Liberation Sans", sans-serif' fill="#1a1a1a" text-anchor="middle" transform="rotate(-90 358.2 606.2)">.6</text>
<path d="M362.1 561.6H365.7" stroke="#4a4a4a" stroke-width="1.1"/>
<text x="358.2" y="561.6" font-size="8.8" font-family='"Liberation Sans", sans-serif' fill="#1a1a1a" text-anchor="middle" transform="rotate(-90 358.2 561.6)">.8</text>
<path d="M371.5 744.9V748.5" stroke="#4a4a4a" stroke-width="1.1"/>
<text x="371.5" y="758.5" font-size="8.5" font-family='"Liberation Sans", sans-serif' fill="#1a1a1a" text-anchor="middle">8</text>
<path d="M443.3 744.9V748.5" stroke="#4a4a4a" stroke-width="1.1"/>
<text x="443.3" y="758.5" font-size="8.5" font-family='"Liberation Sans", sans-serif' fill="#1a1a1a" text-anchor="middle">10</text>
<path d="M515.1 744.9V748.5" stroke="#4a4a4a" stroke-width="1.1"/>
<text x="515.1" y="758.5" font-size="8.5" font-family='"Liberation Sans", sans-serif' fill="#1a1a1a" text-anchor="middle">12</text>
<path d="M586.9 744.9V748.5" stroke="#4a4a4a" stroke-width="1.1"/>
<text x="586.9" y="758.5" font-size="8.5" font-family='"Liberation Sans", sans-serif' fill="#1a1a1a" text-anchor="middle">14</text>
<path d="M658.7 744.9V748.5" stroke="#4a4a4a" stroke-width="1.1"/>
<text x="658.7" y="758.5" font-size="8.5" font-family='"Liberation Sans", sans-serif' fill="#1a1a1a" text-anchor="middle">16</text>
<text x="349" y="647.7" font-size="8.8" font-family='"Liberation Sans", sans-serif' fill="#1a1a1a" text-anchor="middle" textLength="90" lengthAdjust="spacingAndGlyphs" transform="rotate(-90 349 647.7)">Other food budget share</text>
<text x="478.8" y="767.6" font-size="8.8" font-family='"Liberation Sans", sans-serif' fill="#1a1a1a" textLength="80.3" lengthAdjust="spacingAndGlyphs">log food expenditure</text>
<rect x="417.2" y="560.5" width="217" height="16.3" fill="#fff" stroke="#222" stroke-width="1.1"/>
<rect x="421.3" y="564.3" width="20.7" height="8.7" fill="#c6c6c6"/>
<text x="447.6" y="572" font-size="8.8" font-family='"Liberation Sans", sans-serif' fill="#1a1a1a" textLength="28.6" lengthAdjust="spacingAndGlyphs">95% CI</text>
<rect x="489.9" y="567.65" width="2" height="2" fill="#1d4672"/>
<text x="497.9" y="572" font-size="8.8" font-family='"Liberation Sans", sans-serif' fill="#1a1a1a" textLength="49.9" lengthAdjust="spacingAndGlyphs">Fitted values</text>
<path d="M561.1 568.65H575.1" stroke="#e41b22" stroke-width="1.3"/>
<path d="M577.1 568.65h1.2" stroke="#e41b22" stroke-width="1.2"/>
<text x="580.1" y="572" font-size="8.8" font-family='"Liberation Sans", sans-serif' fill="#1a1a1a" textLength="49.9" lengthAdjust="spacingAndGlyphs">lpoly smooth</text>
<text x="482.8" y="536.9" font-size="13.6" font-family='"Liberation Serif", serif' fill="#111" font-weight="bold" textLength="80.3" lengthAdjust="spacingAndGlyphs">f) Other food</text>
<text x="339.2" y="237.5" font-size="12" font-family='"Liberation Serif", serif' fill="#111">g</text>
<path d="M332.7 18.5V236.6M683.5 12V245M334.6 285V493M668.8 283V505" stroke="#f3f3f3" stroke-width="1"/>
</svg></body></html>
